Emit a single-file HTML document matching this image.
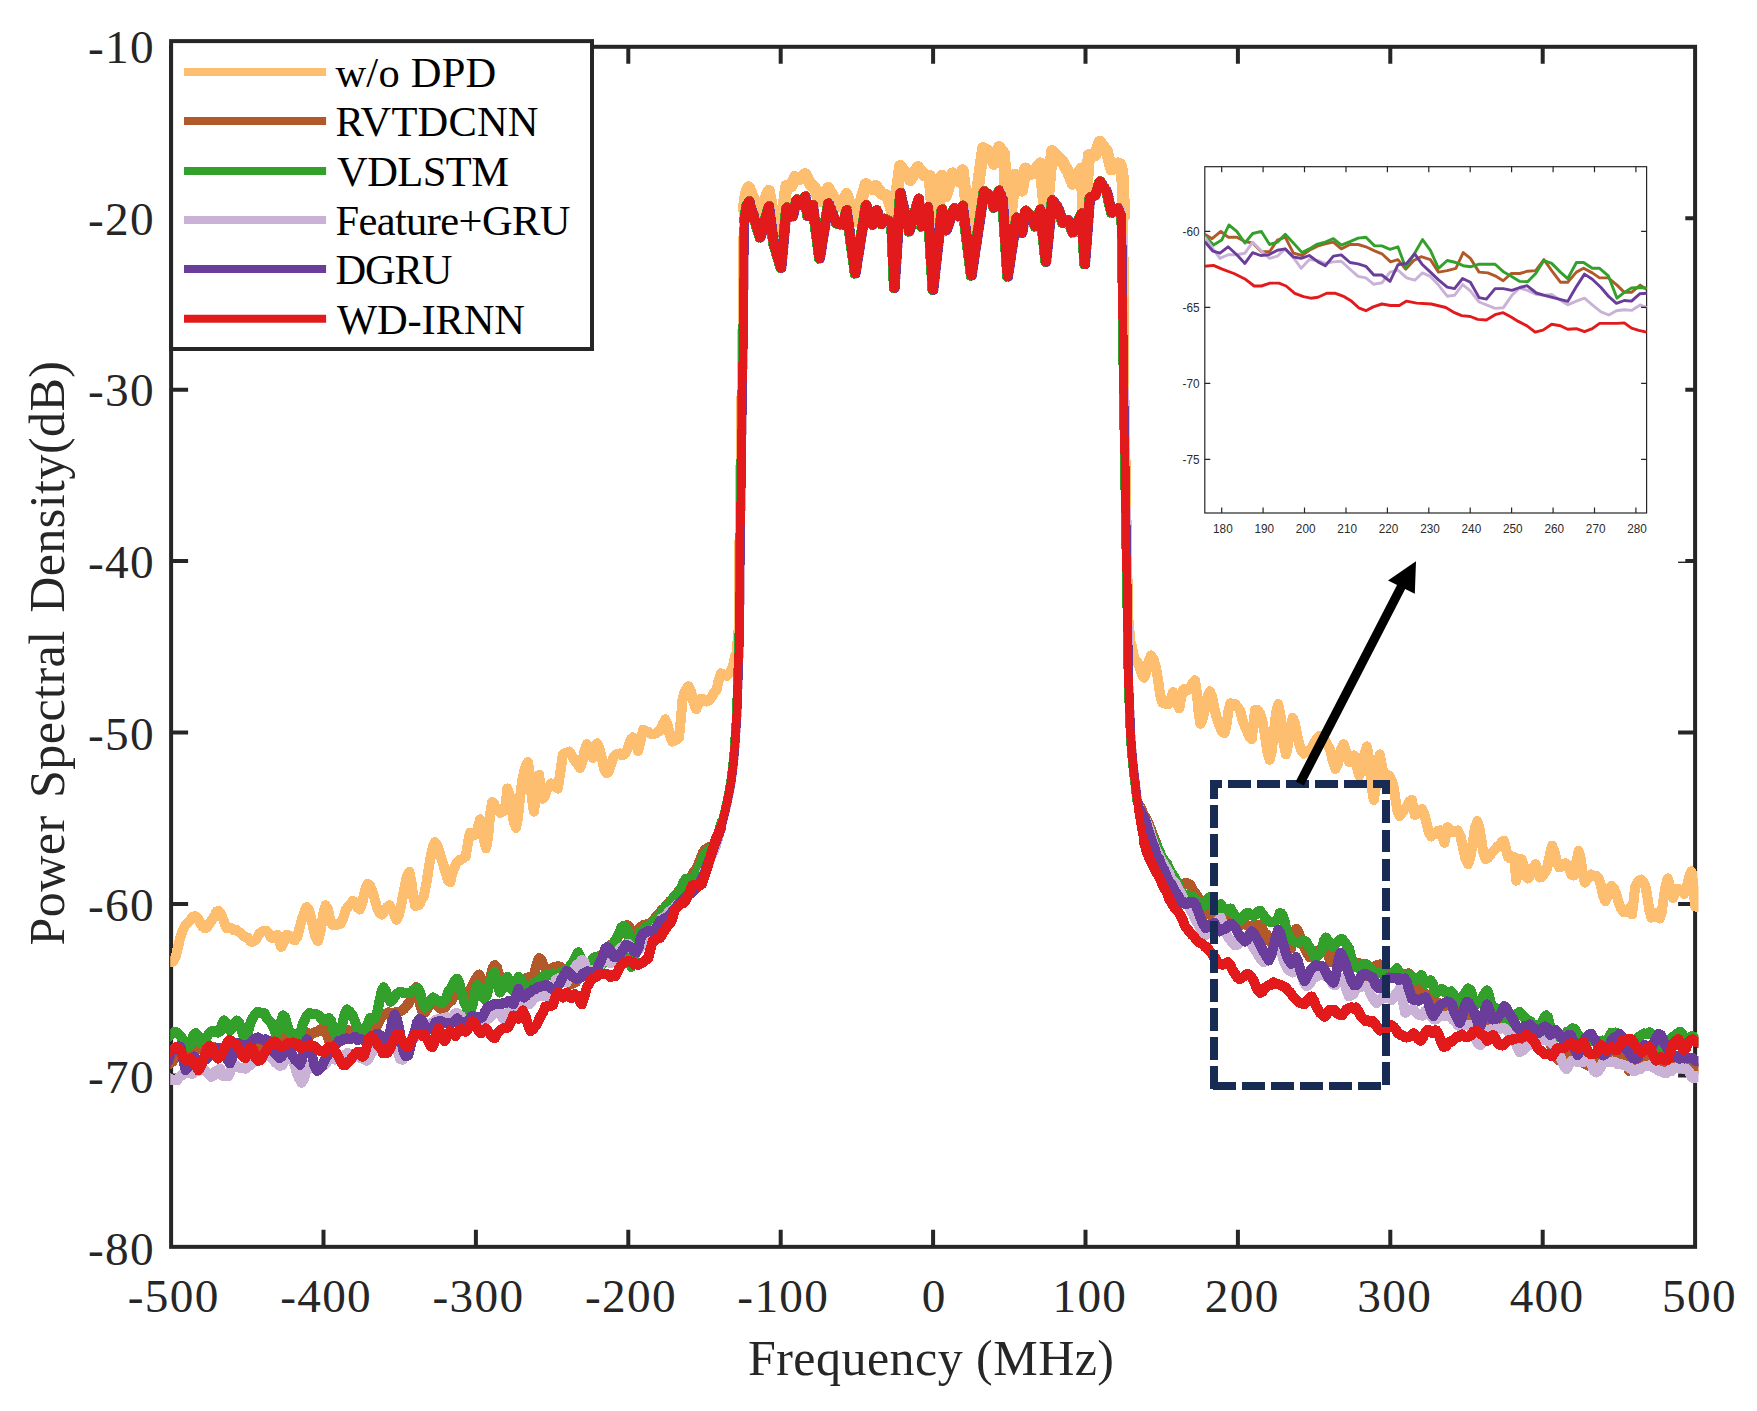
<!DOCTYPE html>
<html lang="en"><head><meta charset="utf-8"><title>Power Spectral Density</title>
<style>html,body{margin:0;padding:0;background:#fff;}svg{display:block;}text{font-family:'Liberation Serif', 'Times New Roman', serif;}.ins text{font-family:'Liberation Sans',Arial,sans-serif;}</style></head><body>
<svg width="1757" height="1411" viewBox="0 0 1757 1411">
<rect width="1757" height="1411" fill="#fff"/>
<g stroke="#262626" stroke-width="4" fill="none" stroke-linecap="butt">
<rect x="171.10" y="46.80" width="1524.00" height="1200.05"/>
<path d="M323.50 1246.85V1229.85 M323.50 46.80V63.80 M475.90 1246.85V1229.85 M475.90 46.80V63.80 M628.30 1246.85V1229.85 M628.30 46.80V63.80 M780.70 1246.85V1229.85 M780.70 46.80V63.80 M933.10 1246.85V1229.85 M933.10 46.80V63.80 M1085.50 1246.85V1229.85 M1085.50 46.80V63.80 M1237.90 1246.85V1229.85 M1237.90 46.80V63.80 M1390.30 1246.85V1229.85 M1390.30 46.80V63.80 M1542.70 1246.85V1229.85 M1542.70 46.80V63.80 M171.10 1075.41H188.10 M1695.10 1075.41H1678.10 M171.10 903.98H188.10 M1695.10 903.98H1678.10 M171.10 732.54H188.10 M1695.10 732.54H1678.10 M171.10 561.11H188.10 M1695.10 561.11H1678.10 M171.10 389.67H188.10 M1695.10 389.67H1678.10 M171.10 218.24H188.10 M1695.10 218.24H1678.10 "/>
</g>
<clipPath id="mc"><rect x="170.2" y="30" width="1528.3" height="1230"/></clipPath>
<g fill="none" stroke-linejoin="round" stroke-linecap="round" shape-rendering="crispEdges" clip-path="url(#mc)">
<path stroke="#FDBF6F" stroke-width="10.1" d="M168.1 962.4 L170.0 962.2 L171.8 961.9 L173.7 960.7 L175.8 956.3 L177.9 947.6 L180.1 938.2 L182.2 931.7 L184.8 926.2 L187.3 923.0 L189.9 920.7 L192.4 916.8 L195.0 916.3 L197.6 917.7 L200.1 922.8 L202.7 926.8 L205.2 928.3 L207.5 927.1 L209.8 923.0 L212.1 919.7 L214.4 916.3 L216.6 911.3 L218.9 911.2 L221.5 914.9 L224.0 921.5 L226.6 928.3 L229.0 928.2 L231.4 928.3 L233.8 930.2 L236.2 929.8 L238.5 931.7 L240.8 933.4 L243.1 935.3 L245.4 937.4 L247.6 937.5 L249.9 940.8 L252.2 942.0 L254.6 940.8 L257.0 938.2 L259.4 933.4 L261.8 931.6 L264.2 930.9 L266.5 931.0 L268.9 933.5 L271.2 937.6 L273.5 937.7 L275.7 935.7 L277.8 935.1 L279.5 941.1 L281.2 947.1 L283.8 941.9 L286.4 935.1 L288.5 935.4 L290.6 937.6 L292.8 939.5 L294.9 940.3 L297.3 936.8 L299.7 927.4 L302.1 918.7 L304.5 911.6 L306.8 907.0 L309.1 910.5 L311.3 919.0 L313.5 929.1 L315.7 937.6 L317.9 941.1 L320.5 931.8 L323.1 914.5 L325.6 905.2 L327.9 909.3 L330.2 919.9 L332.5 924.9 L334.6 925.3 L336.7 924.3 L338.9 924.5 L341.0 923.2 L343.6 917.1 L346.1 909.5 L348.4 906.2 L350.7 903.6 L352.9 901.0 L355.2 902.6 L357.5 907.5 L359.8 909.5 L362.3 902.9 L364.9 890.5 L367.5 883.9 L369.9 885.1 L372.3 891.4 L374.7 899.1 L377.1 907.5 L379.6 913.4 L382.0 914.6 L384.5 911.0 L387.1 907.0 L389.7 905.2 L391.9 909.6 L394.2 914.2 L396.5 919.8 L399.0 914.8 L401.6 902.9 L404.2 888.8 L406.7 876.9 L409.3 872.0 L411.3 880.8 L413.3 897.2 L415.3 906.1 L417.4 905.1 L419.5 904.6 L421.7 899.6 L423.8 895.9 L426.4 883.1 L428.9 866.8 L430.9 856.2 L432.9 846.4 L434.9 842.1 L437.2 845.2 L439.5 851.7 L441.7 860.0 L443.9 866.6 L446.0 873.5 L448.1 880.8 L450.3 882.2 L452.0 873.9 L454.2 868.2 L456.5 863.0 L458.8 860.3 L461.1 859.7 L463.3 858.0 L465.6 856.8 L467.7 844.4 L469.9 832.9 L471.9 833.4 L473.9 834.7 L475.9 834.6 L478.0 827.0 L480.1 819.3 L482.1 826.8 L484.1 840.8 L486.1 848.3 L488.1 836.4 L490.1 814.2 L492.1 802.2 L494.1 803.6 L496.1 808.7 L498.1 810.7 L500.3 812.8 L502.6 810.0 L504.9 810.7 L507.4 788.5 L509.6 794.7 L511.7 808.2 L513.8 821.7 L516.0 827.8 L518.0 817.9 L520.0 797.8 L522.0 781.7 L523.9 772.5 L525.9 765.1 L527.9 762.1 L529.9 774.9 L531.9 798.8 L533.9 811.6 L536.5 793.2 L539.0 774.9 L540.7 786.8 L542.4 798.8 L544.6 796.6 L546.7 790.3 L548.9 786.7 L551.0 783.4 L553.3 784.9 L555.5 787.3 L557.8 788.5 L560.4 771.9 L562.9 754.4 L565.1 753.0 L567.2 752.7 L569.2 751.7 L571.2 754.5 L573.2 757.8 L575.5 761.9 L577.7 764.0 L580.0 768.1 L582.3 761.9 L584.6 750.4 L586.8 744.2 L588.8 748.4 L590.8 753.5 L592.8 757.8 L595.0 750.6 L597.1 743.3 L599.4 748.0 L601.8 758.2 L604.1 768.5 L606.5 773.2 L608.8 771.5 L611.2 763.7 L613.5 757.1 L615.9 754.4 L618.0 754.3 L620.1 753.5 L622.3 755.4 L624.4 754.4 L626.5 751.2 L628.7 745.8 L630.8 739.3 L632.9 737.3 L635.5 743.6 L638.1 751.0 L640.6 740.3 L643.2 729.6 L645.7 731.4 L648.3 731.6 L650.9 734.1 L653.4 733.9 L655.7 733.5 L658.0 731.6 L660.3 730.5 L662.8 724.1 L665.4 719.4 L667.7 725.2 L669.9 735.8 L672.2 741.6 L674.5 740.8 L676.8 739.5 L679.0 737.3 L680.8 719.7 L682.5 699.8 L684.5 691.9 L686.4 689.3 L688.4 686.1 L691.0 691.5 L693.6 702.2 L696.1 709.2 L698.3 704.3 L700.4 698.9 L702.4 700.8 L704.4 699.5 L706.4 701.5 L708.9 700.3 L711.5 697.4 L714.0 692.6 L716.6 689.5 L718.7 680.4 L720.9 673.3 L722.9 673.9 L724.9 675.3 L726.9 675.9 L728.6 673.9 L730.3 671.6 L732.8 666.6 L735.4 655.2"/>
<path stroke="#FDBF6F" stroke-width="8.3" d="M735.4 655.2 L737.9 628.0 L738.4 560.0 L740.0 440.0 L741.8 320.0 L742.5 240.0 L743.8 208.6"/>
<path stroke="#FDBF6F" stroke-width="12.3" d="M743.8 208.6 L746.3 192.8 L748.8 187.4 L759.1 213.7 L768.8 191.1 L778.6 246.2 L786.4 186.1 L791.4 186.1 L795.1 177.3 L800.1 178.6 L805.1 174.2 L810.2 183.6 L815.2 188.6 L818.9 201.1 L828.3 188.0 L837.7 206.1 L841.5 206.1 L846.5 194.2 L855.2 221.2 L865.9 184.2 L872.1 188.6 L875.9 186.1 L881.5 193.6 L887.8 196.1 L893.4 216.2 L900.3 166.1 L910.3 179.9 L917.8 167.3 L924.1 175.1 L929.7 176.1 L934.4 233.7 L941.9 176.1 L945.7 196.1 L952.6 173.6 L958.8 181.1 L962.6 170.5 L970.7 238.7 L983.2 148.3 L990.1 152.3 L993.9 163.6 L998.9 147.3 L1003.9 153.6 L1008.3 233.7 L1015.2 174.8 L1022.0 190.5 L1025.2 168.6 L1032.1 173.6 L1040.2 163.6 L1045.8 218.7 L1052.1 151.4 L1057.7 157.3 L1062.7 162.3 L1067.8 171.1 L1072.8 183.6 L1081.5 168.6 L1084.0 216.2 L1089.0 155.4 L1095.3 154.8 L1099.7 141.7 L1106.6 151.1 L1111.6 169.2 L1117.8 163.6 L1120.0 164.3 L1122.2 171.1 L1124.1 216.2"/>
<path stroke="#FDBF6F" stroke-width="8.3" d="M1124.1 216.2 L1125.2 390.0 L1126.7 480.0 L1129.0 616.0 L1131.5 644.4"/>
<path stroke="#FDBF6F" stroke-width="10.1" d="M1131.5 644.4 L1133.9 656.3 L1135.6 660.4 L1137.3 661.5 L1139.6 667.0 L1141.9 674.7 L1144.1 677.7 L1146.4 671.9 L1148.7 661.2 L1151.0 655.5 L1153.5 659.2 L1156.1 668.3 L1158.1 680.0 L1160.1 694.6 L1162.1 702.4 L1164.1 703.2 L1166.1 704.0 L1168.1 704.2 L1170.6 699.2 L1173.2 692.2 L1175.2 697.0 L1177.2 704.6 L1179.2 708.4 L1180.9 699.6 L1182.6 690.5 L1184.6 688.9 L1186.6 690.8 L1188.5 689.6 L1190.6 687.8 L1192.8 682.4 L1194.9 680.3 L1196.7 691.5 L1198.6 712.5 L1200.5 723.8 L1202.8 718.7 L1205.2 707.6 L1207.5 696.4 L1209.9 691.3 L1212.2 696.9 L1214.4 708.3 L1216.7 717.8 L1219.3 725.6 L1221.8 731.2 L1224.4 733.2 L1226.4 725.4 L1228.4 711.0 L1230.4 703.3 L1232.9 705.2 L1235.5 704.4 L1238.1 707.6 L1240.3 710.7 L1242.6 720.4 L1244.9 726.4 L1247.2 731.0 L1249.4 737.0 L1251.7 739.2 L1253.4 724.6 L1255.1 710.1 L1257.4 710.0 L1259.7 713.0 L1262.0 719.5 L1264.5 732.4 L1267.1 750.5 L1269.6 759.6 L1271.8 751.0 L1273.9 731.9 L1276.1 712.8 L1278.2 704.2 L1280.7 717.2 L1283.3 741.5 L1285.9 754.5 L1288.1 745.0 L1290.4 727.3 L1292.7 717.8 L1295.0 723.6 L1297.3 735.4 L1299.5 745.1 L1301.7 751.2 L1303.8 753.7 L1306.4 752.0 L1308.9 750.3 L1311.5 748.5 L1313.6 744.5 L1315.7 740.4 L1317.9 737.6 L1320.0 735.7 L1322.6 736.3 L1325.1 740.6 L1327.7 745.2 L1330.3 750.3 L1332.8 761.0 L1335.4 769.0 L1337.4 765.2 L1339.5 756.7 L1341.5 748.1 L1343.6 744.3 L1345.4 748.9 L1347.2 757.6 L1349.0 762.2 L1351.6 758.4 L1354.2 755.4 L1356.7 765.6 L1359.3 775.9 L1361.8 768.3 L1364.4 754.1 L1367.0 746.5 L1369.2 760.3 L1371.5 786.0 L1373.8 799.8 L1375.8 788.0 L1377.8 766.3 L1379.8 754.5 L1381.9 765.5 L1384.1 777.1 L1386.4 776.2 L1388.8 775.5 L1391.2 779.2 L1393.3 785.5 L1395.3 798.2 L1397.4 810.5 L1399.4 816.1 L1401.9 813.3 L1404.3 809.4 L1406.8 806.5 L1409.3 801.5 L1411.7 799.7 L1413.2 807.3 L1414.8 815.0 L1417.2 813.4 L1419.6 810.5 L1422.0 808.9 L1424.3 813.9 L1426.6 823.2 L1428.9 832.4 L1431.2 836.5 L1433.5 834.6 L1435.8 833.9 L1438.1 830.7 L1440.4 830.4 L1442.4 836.5 L1444.5 842.7 L1446.0 835.0 L1447.6 827.3 L1450.1 829.8 L1452.7 832.4 L1455.3 831.4 L1457.8 830.4 L1460.4 835.7 L1462.9 847.3 L1465.5 858.9 L1468.1 864.2 L1470.4 857.5 L1472.7 842.7 L1475.0 827.9 L1477.3 821.2 L1479.3 827.1 L1481.4 840.1 L1483.4 853.2 L1485.5 859.1 L1488.0 858.0 L1490.6 854.3 L1493.2 851.6 L1495.7 848.8 L1497.8 846.2 L1499.8 844.8 L1501.9 841.8 L1503.9 840.6 L1506.0 848.8 L1508.0 857.0 L1510.1 858.4 L1512.1 856.5 L1514.2 857.0 L1516.2 880.6 L1518.8 869.8 L1521.3 859.1 L1523.4 864.1 L1525.4 873.5 L1527.5 878.5 L1529.5 877.2 L1531.6 872.2 L1533.6 867.0 L1535.7 864.2 L1537.7 870.9 L1539.8 877.5 L1542.2 876.6 L1544.6 873.2 L1546.9 869.3 L1549.5 856.3 L1552.1 845.8 L1554.5 851.3 L1556.8 861.7 L1559.2 867.3 L1561.3 866.7 L1563.3 864.2 L1565.4 863.2 L1567.4 864.6 L1569.5 868.8 L1571.5 875.0 L1573.6 875.5 L1576.1 863.2 L1578.7 850.9 L1580.8 859.1 L1582.8 874.4 L1584.8 882.6 L1586.9 879.5 L1588.9 876.5 L1591.0 874.5 L1593.4 875.6 L1595.8 875.6 L1598.2 877.5 L1600.6 884.4 L1602.9 895.4 L1605.3 901.1 L1607.4 897.2 L1609.4 888.3 L1611.5 885.7 L1613.9 888.3 L1616.4 894.3 L1618.9 903.8 L1621.3 908.9 L1623.8 912.4 L1626.3 910.8 L1628.9 908.3 L1630.4 912.7 L1632.0 914.4 L1633.5 902.1 L1635.0 887.8 L1637.1 882.8 L1639.1 880.7 L1641.2 879.6 L1643.2 881.5 L1645.3 885.7 L1647.3 896.0 L1649.4 910.3 L1651.4 917.5 L1653.5 917.2 L1655.5 913.4 L1657.6 915.7 L1659.6 918.5 L1661.7 912.3 L1663.7 898.5 L1665.8 884.8 L1667.8 878.5 L1670.4 888.3 L1673.0 898.0 L1675.5 892.4 L1678.1 888.8 L1680.1 891.3 L1682.2 891.8 L1684.2 893.9 L1686.6 888.1 L1689.0 877.2 L1691.4 871.4 L1693.2 882.5 L1695.1 906.2 L1700.1 907.7"/>
<path stroke="#B15928" stroke-width="10.1" d="M168.1 1064.9 L170.5 1063.0 L172.8 1061.3 L175.2 1058.3 L177.6 1055.8 L179.9 1054.3 L182.3 1054.7 L184.7 1052.1 L187.0 1051.5 L189.4 1050.9 L191.8 1050.5 L194.1 1049.5 L196.5 1048.9 L198.9 1049.4 L201.3 1047.9 L203.7 1048.2 L206.1 1047.4 L208.5 1049.2 L210.9 1048.0 L213.3 1047.2 L215.7 1047.5 L218.1 1047.8 L220.6 1047.6 L223.2 1048.5 L225.7 1046.4 L228.3 1046.9 L230.9 1047.5 L233.4 1050.1 L236.0 1048.7 L238.5 1047.7 L241.1 1048.5 L243.7 1049.7 L246.2 1047.6 L248.8 1047.5 L251.3 1048.9 L253.9 1048.3 L256.5 1048.4 L259.0 1047.8 L261.6 1047.1 L264.2 1048.4 L266.7 1047.0 L269.3 1044.4 L271.8 1042.9 L274.4 1038.7 L277.0 1039.5 L279.5 1037.3 L282.1 1036.8 L284.6 1035.9 L287.0 1036.2 L289.4 1035.1 L291.8 1033.7 L294.2 1035.5 L296.6 1034.4 L299.0 1034.6 L301.4 1034.2 L303.8 1034.3 L306.2 1032.3 L308.5 1034.2 L311.1 1034.6 L313.7 1032.5 L316.2 1031.9 L318.8 1031.4 L321.4 1028.6 L323.9 1028.2 L326.2 1030.8 L328.5 1039.4 L330.7 1044.4 L333.3 1042.3 L335.9 1040.4 L338.4 1037.6 L341.0 1032.5 L343.6 1032.1 L346.1 1030.7 L348.7 1030.2 L351.2 1033.6 L353.8 1035.0 L356.4 1035.9 L358.8 1035.4 L361.2 1035.1 L363.7 1033.9 L366.1 1032.8 L368.6 1030.5 L371.0 1030.6 L373.4 1029.0 L376.0 1027.4 L378.6 1022.6 L381.1 1017.3 L383.7 1013.7 L386.2 1013.9 L388.8 1012.4 L391.4 1014.1 L393.9 1012.6 L396.5 1012.3 L399.0 1012.0 L401.6 1010.6 L404.2 1008.8 L406.7 1005.5 L409.3 1002.6 L411.6 997.2 L413.8 989.5 L416.1 987.2 L418.4 994.1 L420.7 1006.8 L422.9 1013.7 L425.5 1011.7 L428.1 1007.5 L430.6 1004.1 L433.2 1001.7 L435.5 1004.1 L437.7 1005.8 L440.0 1008.5 L442.3 1007.9 L444.6 1007.5 L446.9 1004.9 L449.1 1002.3 L451.4 1000.8 L453.7 996.6 L455.4 992.5 L457.1 990.7 L459.6 991.4 L462.2 992.0 L464.8 995.0 L467.3 994.2 L469.7 990.4 L472.1 986.6 L474.5 981.0 L476.9 977.2 L479.3 974.5 L481.5 978.8 L483.8 986.5 L486.1 989.0 L488.2 983.9 L490.4 977.8 L492.5 968.6 L494.6 965.1 L496.8 967.1 L498.9 974.1 L501.0 979.2 L503.2 983.9 L505.7 984.0 L508.3 987.2 L510.9 987.3 L513.4 989.0 L515.7 987.6 L518.0 986.5 L520.3 983.8 L522.5 982.2 L524.8 978.6 L527.1 977.9 L529.6 977.0 L532.2 978.8 L534.5 973.5 L536.8 963.6 L539.0 958.3 L541.3 959.6 L543.6 965.7 L545.9 968.5 L548.4 969.2 L551.0 970.3 L553.3 967.4 L555.5 967.7 L557.8 966.0 L560.1 966.8 L562.4 969.6 L564.6 972.0 L566.9 976.3 L569.2 982.0 L571.5 983.9 L573.8 983.1 L576.0 982.0 L578.3 978.2 L580.6 974.8 L582.9 971.5 L585.1 968.5 L587.3 965.4 L589.4 964.9 L591.5 963.2 L593.7 961.7 L596.2 959.8 L598.8 956.3 L601.4 956.9 L603.9 953.2 L606.5 950.9 L609.0 947.4 L611.6 944.3 L614.2 942.9 L616.4 939.5 L618.7 936.1 L621.0 932.7 L623.0 928.8 L625.0 926.5 L627.0 925.0 L629.0 926.6 L631.0 931.8 L632.9 933.5 L635.5 931.7 L638.1 929.5 L640.6 927.5 L643.2 925.0 L645.5 927.0 L647.7 923.6 L650.0 924.2 L652.6 921.3 L655.1 918.2 L657.3 915.0 L659.4 914.2 L661.5 910.1 L663.7 908.8 L665.8 906.0 L667.9 904.1 L670.1 900.9 L672.2 899.4 L674.8 895.8 L677.3 893.6 L679.9 889.4 L682.5 888.3 L684.7 884.3 L687.0 882.4 L689.3 880.0 L691.6 876.6 L693.8 871.7 L696.1 869.5 L698.3 864.3 L700.4 859.4 L702.5 853.7 L704.7 849.9 L707.1 848.3 L709.5 846.7 L712.0 847.2 L714.4 845.1 L716.7 840.6 L718.9 833.4 L721.2 827.0"/>
<path stroke="#B15928" stroke-width="8.3" d="M721.2 827.0 L723.1 820.3 L725.0 812.6 L726.9 804.3 L729.1 794.1 L731.4 781.6 L733.1 768.8 L734.8 752.1 L737.1 718.1 L738.7 672.8 L740.0 627.4 L740.5 559.4 L742.1 439.4 L743.9 319.4 L744.6 239.4 L745.0 219.6"/>
<path stroke="#B15928" stroke-width="9.7" d="M745.0 219.6 L747.3 204.5 L749.6 200.8 L760.7 236.9 L769.4 205.8 L774.4 243.4 L781.6 267.2 L787.0 207.0 L793.2 215.8 L797.0 198.9 L800.7 204.5 L805.7 195.8 L808.2 215.2 L813.3 204.5 L820.1 257.8 L828.9 202.7 L837.0 222.7 L843.3 224.0 L847.1 209.6 L855.8 272.8 L866.5 204.5 L873.4 224.0 L877.1 209.6 L882.1 223.3 L884.6 218.3 L892.1 222.1 L894.9 287.2 L900.9 192.6 L909.7 230.8 L919.1 198.3 L922.2 225.8 L928.5 206.4 L933.5 289.1 L942.5 208.9 L946.9 229.6 L954.4 207.7 L959.4 215.8 L963.2 205.2 L971.9 274.9 L984.5 190.8 L990.7 195.8 L994.5 207.0 L999.5 190.1 L1003.2 199.5 L1008.2 275.9 L1017.0 217.1 L1022.6 232.1 L1025.8 210.2 L1033.3 218.3 L1035.8 225.8 L1040.8 208.9 L1046.4 261.1 L1052.7 199.5 L1058.3 207.0 L1063.3 222.1 L1068.4 219.6 L1073.4 231.8 L1082.1 212.7 L1085.3 263.4 L1090.3 197.0 L1095.9 194.5 L1100.3 180.8 L1107.2 190.8 L1112.2 212.1 L1118.4 207.7 L1120.0 210.1"/>
<path stroke="#B15928" stroke-width="8.3" d="M1120.0 210.1 L1121.6 214.6 L1122.6 250.0 L1123.0 300.0 L1124.2 390.0 L1125.7 480.0 L1128.0 616.0 L1129.1 684.0 L1131.4 741.0 L1133.7 766.7 L1136.0 786.0 L1137.6 800.0 L1140.0 804.9 L1142.4 808.5 L1145.0 816.5"/>
<path stroke="#B15928" stroke-width="10.1" d="M1145.0 816.5 L1147.6 821.5 L1150.1 827.1 L1152.7 834.1 L1155.1 840.1 L1157.5 846.8 L1159.9 853.7 L1162.2 857.8 L1164.6 863.2 L1166.9 866.1 L1169.2 872.0 L1171.5 876.6 L1173.7 880.3 L1176.0 883.9 L1178.3 883.7 L1180.9 884.0 L1183.4 884.4 L1186.0 882.7 L1188.5 883.7 L1190.7 885.6 L1192.8 889.7 L1194.9 892.4 L1197.1 895.6 L1199.6 901.2 L1202.2 905.9 L1204.8 909.6 L1207.3 914.4 L1209.9 914.3 L1212.4 916.1 L1214.7 916.0 L1217.0 916.5 L1219.3 916.8 L1221.6 915.7 L1223.8 916.4 L1226.1 916.1 L1228.4 916.2 L1230.7 917.6 L1232.9 918.8 L1235.2 919.4 L1237.5 921.8 L1239.8 922.9 L1242.2 924.6 L1244.5 923.9 L1246.9 925.3 L1249.3 926.7 L1251.7 926.4 L1254.0 924.9 L1256.3 925.3 L1258.5 924.6 L1260.7 924.8 L1262.8 929.4 L1265.0 933.8 L1267.1 934.9 L1269.4 940.7 L1271.6 943.0 L1273.9 945.1 L1276.2 945.4 L1278.5 944.0 L1280.7 943.4 L1283.3 944.3 L1285.9 947.4 L1288.4 946.6 L1291.0 948.5 L1293.6 938.7 L1296.1 928.9 L1298.4 931.6 L1300.7 938.8 L1302.9 943.4 L1305.2 949.2 L1307.5 954.0 L1309.8 957.1 L1311.9 956.4 L1314.0 954.7 L1316.2 951.8 L1318.3 950.3 L1320.6 949.9 L1322.9 948.3 L1325.1 948.5 L1327.7 953.5 L1330.3 962.2 L1332.4 961.7 L1334.5 958.6 L1336.7 955.1 L1338.8 953.7 L1341.4 954.2 L1343.9 956.2 L1346.5 956.5 L1349.0 958.2 L1351.6 960.5 L1354.2 962.2 L1356.4 964.3 L1358.7 962.9 L1361.0 965.6 L1363.6 973.2 L1366.1 977.6 L1368.5 975.7 L1370.9 972.1 L1373.3 970.4 L1375.7 966.0 L1378.1 964.8 L1380.5 964.4 L1382.9 967.2 L1385.2 970.9 L1387.6 973.5 L1390.0 974.2 L1392.6 975.0 L1395.1 976.8 L1397.7 977.9 L1400.3 977.6 L1402.3 976.3 L1404.4 975.8 L1406.5 974.0 L1408.5 973.4 L1410.7 974.9 L1412.8 979.6 L1414.9 985.3 L1417.1 988.8 L1419.6 991.0 L1422.2 992.1 L1424.8 993.7 L1427.3 995.6 L1429.9 998.3 L1432.4 999.2 L1435.0 1001.5 L1437.6 1002.4 L1440.1 1005.6 L1442.7 1007.2 L1445.2 1010.6 L1447.8 1009.3 L1450.4 1008.5 L1452.9 1010.0 L1455.5 1009.0 L1458.1 1009.3 L1460.6 1011.8 L1463.2 1013.7 L1465.7 1012.6 L1468.3 1016.1 L1470.9 1016.2 L1473.4 1018.4 L1476.0 1019.3 L1478.5 1019.5 L1481.1 1021.9 L1483.7 1023.4 L1486.2 1025.9 L1488.8 1026.4 L1490.9 1025.9 L1493.1 1022.9 L1495.2 1021.5 L1497.3 1019.5 L1499.5 1017.7 L1501.6 1020.9 L1503.7 1020.2 L1505.9 1022.1 L1508.4 1024.7 L1511.0 1026.4 L1513.5 1029.0 L1516.1 1033.2 L1518.4 1037.5 L1520.7 1040.6 L1522.9 1043.4 L1525.5 1041.5 L1528.1 1038.6 L1530.6 1037.6 L1533.2 1036.6 L1535.6 1037.1 L1538.0 1037.8 L1540.4 1037.1 L1542.7 1038.7 L1545.1 1038.3 L1547.3 1039.8 L1549.4 1042.7 L1551.5 1047.0 L1553.7 1050.3 L1556.2 1057.4 L1558.8 1060.5 L1561.4 1059.1 L1563.9 1056.9 L1566.5 1054.6 L1569.0 1053.7 L1571.6 1054.2 L1574.2 1054.6 L1576.7 1058.0 L1579.3 1058.8 L1581.4 1060.2 L1583.6 1063.3 L1585.7 1064.1 L1587.8 1065.6 L1590.4 1064.1 L1592.9 1060.0 L1595.5 1055.2 L1598.1 1053.7 L1600.6 1055.5 L1603.2 1054.0 L1605.7 1055.3 L1608.3 1054.5 L1610.9 1053.1 L1613.4 1053.7 L1615.8 1053.4 L1618.2 1054.5 L1620.6 1054.8 L1623.0 1055.8 L1625.4 1057.1 L1627.1 1064.2 L1628.8 1070.7 L1631.1 1066.6 L1633.4 1063.2 L1635.6 1060.5 L1638.0 1057.9 L1640.4 1059.7 L1642.8 1058.4 L1645.2 1058.2 L1647.6 1058.8 L1649.7 1059.0 L1651.8 1060.5 L1654.0 1060.1 L1656.1 1062.2 L1658.7 1061.2 L1661.2 1062.4 L1663.8 1061.9 L1666.4 1063.9 L1668.6 1062.8 L1670.9 1064.5 L1673.2 1061.3 L1675.5 1062.0 L1677.7 1059.5 L1680.0 1060.5 L1682.5 1061.0 L1685.0 1061.1 L1687.6 1062.3 L1690.1 1064.2 L1692.6 1067.0 L1695.1 1067.3 L1700.1 1068.8"/>
<path stroke="#33A02C" stroke-width="10.1" d="M168.1 1037.6 L170.3 1035.2 L172.6 1033.5 L174.8 1031.8 L177.1 1032.5 L179.3 1034.5 L181.5 1037.3 L183.7 1042.6 L186.0 1045.4 L188.2 1047.0 L190.7 1045.0 L193.3 1035.1 L195.9 1033.3 L198.1 1035.7 L200.4 1041.7 L202.7 1043.6 L204.8 1041.4 L207.0 1036.9 L209.1 1033.2 L211.2 1031.6 L213.5 1030.6 L215.8 1032.3 L218.1 1032.5 L220.0 1031.6 L222.0 1024.6 L224.0 1020.5 L226.0 1022.2 L228.0 1027.3 L230.0 1030.7 L232.3 1027.7 L234.6 1024.1 L236.8 1020.5 L239.0 1022.4 L241.1 1028.4 L243.2 1035.7 L245.4 1037.6 L247.6 1034.1 L249.9 1024.6 L252.2 1018.8 L254.8 1014.7 L257.3 1012.0 L259.9 1012.5 L262.2 1012.6 L264.6 1013.2 L266.9 1018.5 L269.3 1020.5 L271.4 1023.1 L273.5 1028.0 L275.7 1032.7 L277.8 1032.5 L280.4 1023.9 L282.9 1015.4 L285.1 1017.1 L287.2 1025.1 L289.3 1031.7 L291.5 1034.2 L293.8 1034.4 L296.0 1034.8 L298.3 1035.9 L300.4 1032.6 L302.6 1024.4 L304.7 1020.1 L306.8 1015.4 L309.4 1012.8 L312.0 1013.7 L314.5 1014.3 L317.1 1014.5 L319.4 1015.9 L321.6 1019.1 L323.9 1020.5 L326.5 1019.5 L329.0 1017.9 L331.2 1021.1 L333.3 1029.6 L335.4 1034.0 L337.6 1039.3 L339.9 1034.6 L342.3 1024.3 L344.6 1014.1 L347.0 1009.4 L349.5 1011.4 L352.1 1014.7 L354.6 1020.5 L356.9 1026.2 L359.2 1034.8 L361.5 1037.6 L363.6 1034.9 L365.7 1027.5 L367.9 1023.2 L370.0 1017.9 L372.6 1019.6 L375.1 1017.1 L377.3 1012.1 L379.4 1001.8 L381.5 991.8 L383.7 987.2 L386.0 991.7 L388.2 998.2 L390.5 1001.7 L392.6 1000.1 L394.8 996.5 L396.9 993.6 L399.0 992.3 L401.6 992.0 L404.2 993.4 L406.7 992.7 L409.3 993.2 L411.4 992.0 L413.6 989.5 L415.7 988.8 L417.8 988.1 L420.1 992.3 L422.4 1002.4 L424.7 1007.7 L426.8 1007.0 L428.9 1002.9 L431.1 999.5 L433.2 997.5 L435.3 998.7 L437.5 1000.5 L439.6 1002.4 L441.7 1003.4 L443.9 1001.5 L446.0 998.5 L448.1 992.1 L450.3 988.9 L452.5 985.9 L454.8 980.6 L457.1 978.7 L459.4 983.2 L461.6 992.7 L463.9 1001.0 L465.9 1005.7 L467.9 1011.1 L469.9 1012.9 L472.4 1005.6 L475.0 992.1 L477.6 984.8 L479.8 987.8 L482.1 993.5 L484.4 999.3 L487.0 994.4 L489.5 983.8 L492.1 976.2 L494.6 972.0 L497.2 982.2 L499.8 992.5 L502.3 989.1 L504.9 979.9 L507.4 977.1 L509.4 979.9 L511.4 988.8 L513.4 990.7 L516.0 984.2 L518.5 977.1 L520.8 979.3 L523.1 984.4 L525.4 985.6 L527.9 987.5 L530.5 985.7 L533.1 983.5 L535.6 982.2 L538.2 980.9 L540.7 979.1 L543.3 976.0 L545.9 975.4 L548.3 974.0 L550.6 974.7 L553.0 973.5 L555.4 974.0 L557.8 973.7 L559.9 973.2 L562.1 974.5 L564.2 970.7 L566.4 970.3 L568.6 968.1 L570.9 965.0 L573.2 961.7 L575.7 956.5 L578.3 952.3 L580.6 957.5 L582.9 963.9 L585.1 968.5 L587.7 966.7 L590.3 965.1 L592.8 958.8 L595.4 956.6 L597.9 960.0 L600.5 965.1 L603.1 963.8 L605.6 958.8 L608.2 952.3 L610.7 948.1 L613.0 943.8 L615.3 940.1 L617.6 936.1 L619.6 932.4 L621.6 927.2 L623.6 925.9 L625.5 927.1 L627.5 930.2 L629.5 939.5 L631.2 966.8 L633.5 961.1 L635.8 949.3 L638.1 939.5 L640.6 931.4 L643.2 929.3 L645.7 926.8 L648.3 925.8 L650.9 923.9 L653.4 922.4 L655.6 919.6 L657.7 917.6 L659.8 914.9 L662.0 912.2 L664.1 909.6 L666.2 905.4 L668.4 904.4 L670.5 902.0 L672.6 898.7 L674.8 896.6 L676.9 894.8 L679.0 891.7 L681.3 887.5 L683.6 882.3 L685.9 878.9 L688.2 878.7 L690.4 880.4 L692.7 879.8 L695.3 877.0 L697.8 869.5 L700.0 866.0 L702.1 861.4 L704.2 855.6 L706.4 852.4 L708.6 850.1 L710.9 849.4 L713.2 846.3 L715.5 840.6 L717.7 835.6 L720.0 828.2 L721.9 821.5"/>
<path stroke="#33A02C" stroke-width="8.3" d="M721.9 821.5 L723.8 813.8 L725.7 805.5 L727.9 795.3 L730.2 782.8 L731.9 770.0 L733.6 753.3 L735.9 719.3 L737.5 674.0 L738.8 628.6 L739.3 560.6 L740.9 440.6 L742.7 320.6 L743.4 240.6 L743.8 220.8"/>
<path stroke="#33A02C" stroke-width="9.7" d="M743.8 220.8 L746.1 205.7 L748.4 202.0 L759.5 238.1 L768.2 207.0 L773.2 244.6 L780.4 268.4 L785.8 208.2 L792.0 217.0 L795.8 200.1 L799.5 205.7 L804.5 197.0 L807.0 216.4 L812.1 205.7 L818.9 259.0 L827.7 203.9 L835.8 223.9 L842.1 225.2 L845.9 210.8 L854.6 274.0 L865.3 205.7 L872.2 225.2 L875.9 210.8 L880.9 224.5 L883.4 219.5 L890.9 223.3 L893.7 288.4 L899.7 193.8 L908.5 232.0 L917.9 199.5 L921.0 227.0 L927.3 207.6 L932.3 290.3 L941.3 210.1 L945.7 230.8 L953.2 208.9 L958.2 217.0 L962.0 206.4 L970.7 276.1 L983.3 192.0 L989.5 197.0 L993.3 208.2 L998.3 191.3 L1002.0 200.7 L1007.0 277.1 L1015.8 218.3 L1021.4 233.3 L1024.6 211.4 L1032.1 219.5 L1034.6 227.0 L1039.6 210.1 L1045.2 262.3 L1051.5 200.7 L1057.1 208.2 L1062.1 223.3 L1067.2 220.8 L1072.2 233.0 L1080.9 213.9 L1084.1 264.6 L1089.1 198.2 L1094.7 195.7 L1099.1 182.0 L1106.0 192.0 L1111.0 213.3 L1117.2 208.9 L1120.4 215.8"/>
<path stroke="#33A02C" stroke-width="8.3" d="M1120.4 215.8 L1121.4 250.0 L1121.8 300.0 L1123.0 390.0 L1124.5 480.0 L1126.8 616.0 L1127.9 684.0 L1130.2 741.0 L1132.5 766.7 L1134.8 786.0 L1136.4 800.0 L1139.0 810.0 L1141.5 815.3 L1144.1 819.8"/>
<path stroke="#33A02C" stroke-width="10.1" d="M1144.1 819.8 L1146.7 823.4 L1149.3 829.0 L1151.8 835.1 L1154.4 840.2 L1157.0 846.5 L1159.5 851.2 L1162.1 857.7 L1164.6 860.8 L1167.2 864.1 L1169.8 870.0 L1171.9 873.2 L1174.0 876.6 L1176.2 880.7 L1178.3 885.4 L1180.6 890.7 L1182.9 893.6 L1185.1 895.6 L1187.3 894.8 L1189.4 897.1 L1191.5 897.9 L1193.7 897.3 L1195.9 900.5 L1198.2 905.8 L1200.5 909.3 L1202.6 906.3 L1204.8 902.4 L1206.9 899.4 L1209.0 897.3 L1211.6 903.9 L1214.2 909.3 L1216.4 909.0 L1218.7 906.6 L1221.0 904.2 L1223.5 908.6 L1226.1 911.0 L1228.2 910.9 L1230.4 908.4 L1232.9 912.3 L1235.5 916.5 L1238.1 921.2 L1240.6 919.8 L1243.2 917.2 L1245.7 913.7 L1248.3 912.7 L1250.9 915.2 L1253.4 916.1 L1255.7 914.5 L1258.0 911.5 L1260.3 911.0 L1262.4 913.9 L1264.5 916.7 L1266.7 919.8 L1268.8 921.2 L1271.1 922.1 L1273.3 922.2 L1275.6 921.2 L1277.6 919.5 L1279.6 913.3 L1281.6 913.5 L1284.2 919.5 L1286.7 930.9 L1289.3 938.3 L1291.6 939.2 L1293.8 941.4 L1296.1 941.7 L1298.7 942.8 L1301.2 941.3 L1303.8 940.7 L1306.4 941.7 L1308.5 945.9 L1310.6 949.0 L1312.8 953.6 L1314.9 957.1 L1317.5 956.3 L1320.0 953.7 L1322.0 948.9 L1324.0 940.6 L1326.0 937.5 L1328.0 940.6 L1330.0 944.0 L1332.0 946.8 L1334.1 944.8 L1336.2 943.2 L1338.4 941.1 L1340.5 939.2 L1342.6 939.4 L1344.8 942.4 L1346.9 945.1 L1349.0 948.5 L1351.3 957.6 L1353.6 962.6 L1355.9 967.3 L1358.4 968.0 L1361.0 965.6 L1363.6 964.3 L1366.1 963.9 L1368.3 965.8 L1370.4 968.6 L1372.5 971.9 L1374.7 972.5 L1376.8 973.3 L1378.9 972.8 L1381.1 973.2 L1383.2 974.2 L1385.5 975.8 L1387.7 977.4 L1390.0 977.6 L1392.3 976.4 L1394.6 971.0 L1396.9 968.2 L1399.1 971.6 L1401.4 976.5 L1403.7 977.6 L1405.7 976.5 L1407.7 975.1 L1410.2 975.1 L1412.8 977.9 L1415.4 980.3 L1417.4 977.6 L1419.4 977.9 L1421.3 975.1 L1423.5 978.6 L1425.6 983.7 L1428.2 983.1 L1430.7 980.3 L1432.7 983.9 L1434.7 990.6 L1436.7 992.2 L1439.3 991.4 L1441.8 988.8 L1444.0 990.8 L1446.1 993.1 L1448.7 992.0 L1451.2 991.3 L1453.5 994.3 L1455.8 999.7 L1458.1 1002.4 L1460.6 999.8 L1463.2 995.4 L1465.7 992.1 L1468.3 988.4 L1470.9 991.0 L1473.4 1000.3 L1476.0 1004.2 L1478.1 1002.2 L1480.3 1000.7 L1482.5 997.2 L1484.8 993.4 L1487.1 990.5 L1489.1 995.4 L1491.1 1004.4 L1493.1 1009.3 L1495.0 1007.8 L1497.0 1010.3 L1499.0 1009.3 L1501.6 1010.9 L1504.2 1016.7 L1506.7 1021.0 L1509.3 1022.9 L1511.8 1018.9 L1514.4 1016.7 L1517.0 1013.8 L1519.5 1011.8 L1521.8 1014.8 L1524.1 1017.0 L1526.4 1019.5 L1528.5 1021.3 L1530.6 1021.2 L1532.8 1024.9 L1534.9 1024.6 L1537.5 1027.4 L1540.0 1026.4 L1542.0 1023.5 L1544.0 1017.9 L1546.0 1015.3 L1548.0 1017.1 L1550.0 1025.8 L1552.0 1029.8 L1554.5 1034.9 L1557.1 1035.2 L1559.6 1037.2 L1562.2 1036.6 L1564.8 1035.8 L1567.3 1031.6 L1569.9 1030.9 L1572.5 1028.4 L1574.7 1029.1 L1577.0 1033.6 L1579.3 1036.6 L1581.6 1038.4 L1583.8 1040.1 L1586.1 1040.0 L1588.5 1040.8 L1590.8 1041.1 L1593.2 1040.3 L1595.5 1040.1 L1597.9 1041.5 L1600.2 1041.0 L1602.5 1040.5 L1604.9 1041.7 L1607.0 1039.2 L1609.2 1037.0 L1611.3 1032.8 L1613.4 1033.2 L1615.7 1032.5 L1618.0 1033.6 L1620.3 1036.6 L1622.8 1039.0 L1625.4 1042.0 L1627.9 1045.9 L1630.5 1045.1 L1632.6 1042.7 L1634.8 1040.9 L1636.9 1039.5 L1639.0 1036.6 L1641.6 1034.9 L1644.2 1033.4 L1646.7 1034.2 L1649.3 1032.3 L1651.6 1033.6 L1653.8 1036.6 L1656.1 1041.7 L1657.8 1044.7 L1659.5 1048.5 L1661.8 1048.3 L1664.1 1047.0 L1666.4 1045.1 L1668.6 1041.4 L1670.9 1038.5 L1673.2 1036.6 L1675.5 1034.9 L1677.7 1033.1 L1680.0 1031.8 L1682.3 1033.8 L1684.6 1039.7 L1686.9 1041.7 L1689.1 1040.9 L1691.4 1036.3 L1693.7 1036.6 L1695.1 1040.0 L1700.1 1041.5"/>
<path stroke="#CAB2D6" stroke-width="10.1" d="M168.1 1077.7 L170.3 1078.9 L172.6 1080.3 L174.8 1079.7 L177.1 1080.3 L179.2 1077.0 L181.3 1075.7 L183.5 1073.7 L185.6 1071.7 L187.7 1073.1 L189.9 1069.8 L192.0 1074.1 L194.1 1071.7 L196.3 1070.2 L198.4 1070.9 L200.6 1070.0 L202.7 1068.3 L204.8 1070.5 L207.0 1072.7 L209.1 1074.5 L211.2 1076.8 L213.5 1075.6 L215.8 1071.1 L218.1 1070.0 L220.2 1068.7 L222.3 1075.6 L224.5 1075.7 L226.6 1076.0 L228.7 1075.9 L230.9 1069.6 L233.0 1067.9 L235.1 1064.9 L237.7 1066.9 L240.3 1068.2 L242.8 1068.0 L245.4 1068.7 L247.6 1066.5 L249.9 1065.2 L252.2 1063.2 L254.8 1059.1 L257.3 1057.3 L259.9 1057.2 L262.4 1056.4 L264.6 1055.5 L266.7 1056.2 L268.9 1056.3 L271.0 1056.4 L273.1 1059.6 L275.3 1062.2 L277.4 1064.2 L279.5 1065.7 L282.1 1065.4 L284.6 1060.4 L287.2 1057.5 L289.8 1056.4 L292.2 1059.9 L294.5 1064.6 L296.9 1073.3 L299.3 1078.9 L301.7 1082.8 L304.0 1078.3 L306.3 1071.0 L308.5 1064.9 L310.7 1065.0 L312.8 1067.7 L315.0 1068.4 L317.1 1070.0 L319.4 1068.1 L321.6 1065.8 L323.9 1065.4 L326.2 1063.3 L328.5 1059.4 L330.7 1058.1 L332.9 1057.7 L335.0 1059.6 L337.1 1059.2 L339.3 1059.8 L341.4 1059.4 L343.6 1056.6 L345.7 1054.3 L347.8 1052.9 L350.0 1053.9 L352.1 1053.7 L354.2 1055.0 L356.4 1056.4 L358.9 1056.1 L361.5 1058.6 L364.0 1058.9 L366.6 1060.6 L368.7 1058.8 L370.9 1054.3 L373.0 1050.9 L375.1 1047.8 L377.7 1046.1 L380.3 1042.4 L382.8 1041.2 L385.4 1039.7 L387.9 1040.3 L390.5 1039.3 L392.9 1042.9 L395.3 1047.3 L397.7 1052.2 L400.1 1059.0 L402.5 1059.8 L404.6 1056.0 L406.7 1053.3 L408.9 1045.0 L411.0 1041.0 L413.6 1035.0 L416.1 1036.9 L418.7 1033.2 L421.2 1028.5 L423.8 1027.5 L426.4 1025.6 L428.6 1024.1 L430.9 1023.3 L433.2 1022.2 L435.5 1019.8 L437.7 1019.4 L440.0 1019.3 L442.3 1018.2 L444.6 1018.4 L446.9 1017.1 L448.5 1021.5 L450.7 1020.2 L452.8 1019.3 L454.9 1013.6 L457.1 1012.9 L459.2 1014.8 L461.3 1016.3 L463.5 1020.5 L465.6 1023.2 L467.7 1023.8 L469.9 1020.6 L472.0 1020.8 L474.1 1019.8 L476.7 1020.0 L479.3 1019.7 L481.8 1020.9 L484.4 1021.5 L486.7 1020.1 L488.9 1018.1 L491.2 1016.4 L493.5 1014.4 L495.8 1011.5 L498.1 1009.5 L500.6 1013.7 L503.2 1018.9 L505.3 1016.7 L507.4 1014.4 L509.6 1010.3 L511.7 1007.8 L514.3 1006.9 L516.8 1006.7 L519.4 1003.9 L522.0 1002.7 L524.2 1003.1 L526.5 1003.8 L528.8 1004.4 L531.1 1002.1 L533.3 998.9 L535.6 997.6 L537.9 995.8 L540.2 995.8 L542.4 995.9 L544.7 995.5 L547.0 996.5 L549.3 995.9 L551.4 992.8 L553.5 987.0 L555.7 980.1 L557.8 978.5 L560.1 980.9 L562.4 981.7 L564.6 982.2 L566.8 982.5 L568.9 978.3 L571.0 975.0 L573.2 970.3 L575.3 966.9 L577.5 964.4 L579.6 963.5 L581.7 960.0 L584.0 961.6 L586.3 968.7 L588.5 970.3 L590.7 971.7 L592.8 970.2 L595.0 969.9 L597.1 968.5 L599.4 967.1 L601.6 961.4 L603.9 960.0 L606.2 961.2 L608.5 961.5 L610.7 963.1 L612.9 960.8 L615.0 957.0 L617.1 953.0 L619.3 949.8 L621.6 947.4 L623.8 945.6 L626.1 944.3 L628.7 943.9 L631.2 948.9 L633.8 950.0 L636.4 949.8 L638.7 949.6 L641.1 946.6 L643.5 944.0 L645.9 941.4 L648.3 937.8 L650.4 935.4 L652.6 930.4 L654.7 929.5 L656.8 925.9 L659.2 925.6 L661.6 918.3 L664.0 918.1 L666.4 914.9 L668.8 912.2 L671.4 909.8 L673.9 909.1 L676.5 904.8 L679.0 903.7 L681.6 901.4 L684.2 900.0 L686.7 895.8 L689.3 893.4 L691.8 890.7 L694.4 888.9 L697.0 885.9 L699.5 883.2 L701.8 880.3 L704.1 872.5 L706.4 867.8 L708.6 863.6 L710.9 856.7 L713.2 852.4 L715.2 847.6 L717.3 841.0 L719.3 832.4 L721.4 828.0"/>
<path stroke="#CAB2D6" stroke-width="8.3" d="M721.4 828.0 L723.3 821.1 L725.2 813.5 L727.1 805.3 L729.3 795.1 L731.6 782.6 L733.3 769.8 L735.0 753.1 L737.3 719.1 L738.9 673.8 L740.2 628.4 L740.7 560.4 L742.3 440.4 L744.1 320.4 L744.8 240.4 L745.2 220.6"/>
<path stroke="#CAB2D6" stroke-width="9.7" d="M745.2 220.6 L747.5 205.5 L749.8 201.8 L760.9 237.9 L769.6 206.8 L774.6 244.4 L781.8 268.2 L787.2 208.0 L793.4 216.8 L797.2 199.9 L800.9 205.5 L805.9 196.8 L808.4 216.2 L813.5 205.5 L820.3 258.8 L829.1 203.7 L837.2 223.7 L843.5 225.0 L847.3 210.6 L856.0 273.8 L866.7 205.5 L873.6 225.0 L877.3 210.6 L882.3 224.3 L884.8 219.3 L892.3 223.1 L895.1 288.2 L901.1 193.6 L909.9 231.8 L919.3 199.3 L922.4 226.8 L928.7 207.4 L933.7 290.1 L942.7 209.9 L947.1 230.6 L954.6 208.7 L959.6 216.8 L963.4 206.2 L972.1 275.9 L984.7 191.8 L990.9 196.8 L994.7 208.0 L999.7 191.1 L1003.4 200.5 L1008.4 276.9 L1017.2 218.1 L1022.8 233.1 L1026.0 211.2 L1033.5 219.3 L1036.0 226.8 L1041.0 209.9 L1046.6 262.1 L1052.9 200.5 L1058.5 208.0 L1063.5 223.1 L1068.6 220.6 L1073.6 232.8 L1082.3 213.7 L1085.5 264.4 L1090.5 198.0 L1096.1 195.5 L1100.5 181.8 L1107.4 191.8 L1112.4 213.1 L1118.6 208.7 L1120.2 209.2"/>
<path stroke="#CAB2D6" stroke-width="8.3" d="M1120.2 209.2 L1121.8 215.6 L1122.8 250.0 L1123.2 300.0 L1124.4 390.0 L1125.9 480.0 L1128.2 616.0 L1129.3 684.0 L1131.6 741.0 L1133.9 766.7 L1136.2 786.0 L1137.8 800.0 L1139.8 807.4 L1141.8 813.6 L1143.8 816.3 L1145.9 820.5"/>
<path stroke="#CAB2D6" stroke-width="10.1" d="M1145.9 820.5 L1148.2 826.2 L1150.6 833.9 L1153.0 842.0 L1155.4 848.2 L1157.8 852.9 L1159.9 857.2 L1162.1 861.1 L1164.2 864.5 L1166.3 868.3 L1168.7 871.9 L1171.1 878.4 L1173.5 880.6 L1175.9 883.7 L1178.3 888.8 L1180.7 892.5 L1183.1 897.7 L1185.5 901.7 L1187.9 905.1 L1190.3 909.3 L1192.8 913.6 L1195.4 919.8 L1197.9 923.8 L1200.5 929.0 L1203.1 934.3 L1205.6 934.9 L1207.8 933.6 L1209.9 932.2 L1212.0 930.2 L1214.2 926.4 L1216.4 923.6 L1218.7 919.5 L1221.0 917.8 L1223.5 926.3 L1226.1 933.2 L1228.7 938.2 L1231.2 941.1 L1233.8 944.8 L1236.4 945.1 L1238.5 944.2 L1240.6 940.1 L1242.8 938.0 L1244.9 936.6 L1247.5 937.9 L1250.0 939.9 L1252.6 946.0 L1255.1 950.3 L1257.3 953.5 L1259.4 957.3 L1261.5 959.4 L1263.7 962.2 L1265.8 960.9 L1267.9 958.8 L1270.1 956.1 L1272.2 953.7 L1274.5 950.4 L1276.8 950.0 L1279.0 948.5 L1281.6 953.2 L1284.2 962.2 L1286.3 965.7 L1288.4 970.4 L1290.6 970.9 L1292.7 972.5 L1295.3 969.4 L1297.8 967.3 L1300.0 971.3 L1302.1 976.4 L1304.2 982.9 L1306.4 986.1 L1308.5 985.1 L1310.6 983.1 L1312.8 977.2 L1314.9 977.6 L1317.5 976.1 L1320.0 975.4 L1322.6 975.0 L1325.1 975.9 L1327.7 976.5 L1330.3 979.8 L1332.8 984.1 L1335.4 985.3 L1337.7 982.4 L1339.9 979.7 L1342.2 977.6 L1344.5 982.8 L1346.8 990.8 L1349.0 996.4 L1351.2 995.3 L1353.3 994.0 L1355.4 989.9 L1357.6 987.8 L1359.7 986.6 L1361.8 986.6 L1364.0 985.4 L1366.1 986.1 L1368.7 989.0 L1371.2 995.4 L1373.8 999.8 L1376.4 1003.2 L1378.6 1001.2 L1380.9 999.2 L1383.2 996.4 L1385.3 996.4 L1387.5 998.2 L1389.6 998.3 L1391.7 999.8 L1393.9 997.2 L1396.0 993.3 L1398.1 991.6 L1400.3 987.8 L1402.7 1000.3 L1405.1 1012.7 L1407.4 1011.3 L1409.7 1009.7 L1412.0 1009.3 L1414.1 1010.1 L1416.2 1012.9 L1418.4 1014.5 L1420.5 1015.3 L1422.8 1015.6 L1425.0 1011.0 L1427.3 1009.3 L1429.6 1013.2 L1431.9 1017.1 L1434.1 1019.5 L1436.3 1019.5 L1438.4 1016.5 L1440.6 1016.5 L1442.7 1016.1 L1444.8 1016.2 L1447.0 1016.4 L1449.1 1015.2 L1451.2 1017.8 L1453.4 1020.3 L1455.5 1022.1 L1457.6 1024.8 L1459.8 1026.4 L1461.9 1025.9 L1464.0 1025.3 L1466.2 1025.3 L1468.3 1024.6 L1470.7 1025.6 L1473.1 1031.0 L1475.5 1038.2 L1477.9 1043.1 L1480.3 1045.1 L1482.4 1042.5 L1484.5 1037.2 L1486.7 1031.7 L1488.8 1029.8 L1491.1 1029.2 L1493.3 1029.9 L1495.6 1027.5 L1497.9 1029.6 L1500.2 1028.9 L1502.4 1028.1 L1505.0 1028.4 L1507.6 1031.4 L1510.1 1032.1 L1512.7 1036.6 L1515.0 1040.3 L1517.2 1047.5 L1519.5 1052.0 L1522.1 1050.8 L1524.6 1048.9 L1527.2 1046.5 L1529.8 1045.1 L1532.2 1043.9 L1534.5 1040.5 L1536.9 1041.7 L1539.3 1039.1 L1541.7 1040.0 L1544.1 1039.7 L1546.5 1040.6 L1548.9 1041.0 L1551.3 1042.3 L1553.7 1045.1 L1555.9 1047.1 L1558.2 1052.5 L1560.5 1057.1 L1562.5 1062.4 L1564.5 1067.3 L1566.5 1069.0 L1568.5 1065.9 L1570.5 1062.0 L1572.5 1060.5 L1574.6 1059.9 L1576.7 1061.8 L1578.9 1060.1 L1581.0 1062.2 L1583.3 1062.4 L1585.5 1059.2 L1587.8 1058.8 L1590.0 1060.2 L1592.1 1065.9 L1594.2 1071.2 L1596.4 1072.5 L1598.5 1070.9 L1600.6 1067.4 L1602.8 1062.5 L1604.9 1060.5 L1607.5 1061.8 L1610.0 1062.2 L1612.6 1061.5 L1615.1 1062.2 L1617.7 1064.2 L1620.3 1063.8 L1622.8 1064.7 L1625.4 1065.6 L1627.9 1066.2 L1630.5 1068.4 L1633.1 1070.8 L1635.6 1070.7 L1638.2 1068.8 L1640.8 1068.8 L1643.3 1066.7 L1645.9 1065.6 L1648.4 1066.2 L1651.0 1064.9 L1653.6 1067.9 L1656.1 1069.0 L1658.7 1070.8 L1661.2 1071.0 L1663.8 1072.9 L1666.4 1073.3 L1668.9 1070.2 L1671.5 1070.9 L1674.0 1067.7 L1676.6 1067.3 L1679.2 1068.2 L1681.7 1066.1 L1684.3 1068.9 L1686.9 1069.0 L1689.1 1071.6 L1691.4 1076.9 L1693.7 1078.4 L1695.1 1075.9 L1700.1 1077.4"/>
<path stroke="#6A3D9A" stroke-width="10.1" d="M168.1 1061.5 L170.6 1053.6 L173.1 1049.5 L175.5 1049.9 L178.0 1046.3 L180.5 1047.0 L183.1 1058.5 L185.6 1070.0 L187.7 1067.6 L189.9 1062.3 L192.0 1059.6 L194.1 1056.4 L196.4 1059.2 L198.7 1059.5 L201.0 1061.5 L203.5 1058.9 L206.1 1059.2 L208.7 1056.3 L211.2 1052.9 L213.4 1052.0 L215.5 1050.7 L217.6 1047.6 L219.8 1047.8 L222.3 1050.1 L224.9 1054.3 L227.4 1059.5 L230.0 1063.2 L232.3 1057.9 L234.6 1048.0 L236.8 1042.7 L239.0 1045.3 L241.1 1044.5 L243.2 1045.0 L245.4 1046.1 L247.9 1045.6 L250.5 1043.9 L253.1 1040.1 L255.6 1038.4 L258.2 1037.4 L260.7 1039.0 L263.3 1040.2 L265.9 1039.3 L268.1 1040.5 L270.4 1043.8 L272.7 1049.8 L275.0 1053.5 L277.2 1055.7 L279.5 1058.1 L281.7 1056.4 L283.8 1053.1 L285.9 1051.1 L288.1 1049.5 L290.4 1051.2 L292.8 1056.0 L295.2 1060.1 L297.6 1061.9 L300.0 1064.9 L302.3 1058.3 L304.6 1045.9 L306.8 1039.3 L309.4 1044.2 L312.0 1055.1 L314.5 1065.9 L317.1 1070.9 L319.6 1068.4 L322.2 1066.1 L324.8 1059.5 L327.3 1056.4 L329.6 1051.4 L331.9 1051.1 L334.2 1046.5 L336.4 1044.1 L338.7 1041.0 L341.0 1041.0 L343.4 1039.0 L345.8 1038.4 L348.2 1038.6 L350.6 1038.9 L352.9 1038.4 L355.3 1036.6 L357.7 1040.0 L360.1 1039.0 L362.5 1039.8 L364.9 1041.0 L367.2 1041.1 L369.4 1039.2 L371.7 1036.2 L374.0 1037.6 L376.3 1033.9 L378.6 1034.2 L380.7 1035.5 L382.8 1037.8 L385.0 1041.2 L387.1 1041.0 L389.7 1034.1 L392.2 1021.4 L394.8 1014.5 L397.0 1018.9 L399.2 1029.2 L401.4 1041.6 L403.7 1052.0 L405.9 1056.4 L408.2 1055.3 L410.4 1046.9 L412.7 1037.7 L415.0 1030.6 L417.3 1021.9 L419.5 1018.8 L421.7 1019.7 L423.8 1024.6 L425.9 1026.4 L428.1 1029.0 L430.6 1028.9 L433.2 1026.3 L435.8 1022.0 L438.3 1021.4 L440.7 1021.1 L443.1 1022.4 L445.5 1023.0 L447.9 1022.8 L450.3 1023.9 L452.8 1022.4 L455.4 1019.8 L457.5 1018.5 L459.6 1021.1 L461.8 1022.3 L463.9 1023.2 L466.5 1021.9 L469.0 1020.0 L471.6 1016.3 L474.1 1016.4 L476.4 1017.3 L478.7 1017.5 L481.0 1018.1 L483.1 1015.8 L485.2 1011.3 L487.4 1007.4 L489.5 1006.1 L492.1 1005.5 L494.6 1003.8 L497.2 1004.2 L499.8 1003.6 L501.9 1003.8 L504.0 1002.9 L506.2 1002.7 L508.3 1001.0 L510.9 1002.4 L513.4 1004.4 L516.0 996.7 L518.5 989.0 L521.1 994.2 L523.7 997.6 L526.2 995.8 L528.8 992.5 L530.9 991.9 L533.1 989.5 L535.2 989.4 L537.3 987.3 L539.5 987.2 L541.6 986.3 L543.7 985.5 L545.9 984.8 L548.1 986.2 L550.4 988.1 L552.7 989.0 L555.0 988.5 L557.2 987.2 L559.5 983.9 L561.8 979.1 L564.1 975.4 L566.4 971.1 L568.9 972.2 L571.5 975.8 L574.0 977.5 L576.6 978.8 L578.7 977.7 L580.9 977.8 L583.0 973.7 L585.1 972.8 L587.3 971.4 L589.4 971.8 L591.5 972.0 L593.7 972.0 L596.2 971.4 L598.8 965.1 L600.9 960.6 L603.1 955.3 L605.2 948.5 L607.3 947.2 L609.5 949.0 L611.6 952.5 L613.7 956.8 L615.9 956.6 L618.4 954.9 L621.0 953.2 L623.6 948.8 L626.1 944.6 L628.7 946.1 L631.2 947.6 L633.8 951.1 L636.4 952.3 L638.6 947.6 L640.9 937.2 L643.2 933.5 L645.7 932.3 L648.3 931.0 L650.6 931.5 L652.9 930.6 L655.1 931.0 L657.7 925.3 L660.3 920.7 L662.4 920.4 L664.5 918.2 L666.7 917.9 L668.8 915.6 L670.9 914.8 L673.1 910.3 L675.2 908.7 L677.3 905.4 L679.9 902.4 L682.5 899.9 L685.0 897.4 L687.6 895.1 L689.7 893.4 L691.8 893.0 L694.0 890.5 L696.1 888.3 L698.4 885.0 L700.7 880.7 L702.9 876.3 L705.1 871.8 L707.2 865.2 L709.4 859.7 L711.5 854.1 L712.9 850.0 L714.3 845.9 L716.6 839.5 L718.8 834.2 L721.1 827.8"/>
<path stroke="#6A3D9A" stroke-width="8.3" d="M721.1 827.8 L723.0 821.1 L724.9 813.4 L726.8 805.1 L729.0 794.9 L731.3 782.4 L733.0 769.6 L734.7 752.9 L737.0 718.9 L738.6 673.6 L739.9 628.2 L740.4 560.2 L742.0 440.2 L743.8 320.2 L744.5 240.2 L744.9 220.4"/>
<path stroke="#6A3D9A" stroke-width="9.7" d="M744.9 220.4 L747.2 205.3 L749.5 201.6 L760.6 237.7 L769.3 206.6 L774.3 244.2 L781.5 268.0 L786.9 207.8 L793.1 216.6 L796.9 199.7 L800.6 205.3 L805.6 196.6 L808.1 216.0 L813.2 205.3 L820.0 258.6 L828.8 203.5 L836.9 223.5 L843.2 224.8 L847.0 210.4 L855.7 273.6 L866.4 205.3 L873.3 224.8 L877.0 210.4 L882.0 224.1 L884.5 219.1 L892.0 222.9 L894.8 288.0 L900.8 193.4 L909.6 231.6 L919.0 199.1 L922.1 226.6 L928.4 207.2 L933.4 289.9 L942.4 209.7 L946.8 230.4 L954.3 208.5 L959.3 216.6 L963.1 206.0 L971.8 275.7 L984.4 191.6 L990.6 196.6 L994.4 207.8 L999.4 190.9 L1003.1 200.3 L1008.1 276.7 L1016.9 217.9 L1022.5 232.9 L1025.7 211.0 L1033.2 219.1 L1035.7 226.6 L1040.7 209.7 L1046.3 261.9 L1052.6 200.3 L1058.2 207.8 L1063.2 222.9 L1068.3 220.4 L1073.3 232.6 L1082.0 213.5 L1085.2 264.2 L1090.2 197.8 L1095.8 195.3 L1100.2 181.6 L1107.1 191.6 L1112.1 212.9 L1118.3 208.5 L1119.9 212.0"/>
<path stroke="#6A3D9A" stroke-width="8.3" d="M1119.9 212.0 L1121.5 215.4 L1122.5 250.0 L1122.9 300.0 L1124.1 390.0 L1125.6 480.0 L1127.9 616.0 L1129.0 684.0 L1131.3 741.0 L1133.6 766.7 L1135.9 786.0 L1137.5 800.0 L1139.7 807.4 L1141.9 812.4 L1144.1 817.1"/>
<path stroke="#6A3D9A" stroke-width="10.1" d="M1144.1 817.1 L1146.7 824.9 L1149.3 833.9 L1151.8 840.6 L1154.4 847.8 L1156.8 855.8 L1159.2 858.9 L1161.6 865.8 L1164.0 869.4 L1166.3 875.1 L1168.7 881.3 L1171.1 883.8 L1173.5 888.1 L1175.9 892.9 L1178.3 895.6 L1180.6 900.4 L1182.9 901.7 L1185.1 904.2 L1187.3 903.6 L1189.4 902.0 L1191.5 902.8 L1193.7 902.4 L1195.9 905.3 L1198.2 911.4 L1200.5 917.8 L1203.1 923.7 L1205.6 928.1 L1207.8 926.9 L1209.9 924.8 L1212.0 924.2 L1214.2 922.9 L1216.7 928.6 L1219.3 931.5 L1221.6 929.2 L1223.8 929.5 L1226.1 928.1 L1228.7 925.1 L1231.2 923.8 L1233.5 926.0 L1235.8 928.6 L1238.1 933.2 L1240.3 936.6 L1242.6 939.2 L1244.9 941.7 L1247.2 939.7 L1249.4 934.2 L1251.7 931.5 L1254.0 933.1 L1256.3 937.6 L1258.5 941.7 L1261.1 946.6 L1263.7 952.0 L1266.2 956.0 L1268.8 960.5 L1271.4 954.9 L1273.9 945.1 L1276.1 935.7 L1278.2 929.8 L1280.2 932.9 L1282.2 940.9 L1284.2 946.8 L1286.4 955.1 L1288.7 959.9 L1291.0 963.9 L1293.6 959.8 L1296.1 957.1 L1298.2 962.2 L1300.4 970.3 L1302.5 976.6 L1304.6 981.0 L1306.9 977.2 L1309.2 972.2 L1311.5 969.0 L1313.6 967.3 L1315.7 965.2 L1317.9 965.9 L1320.0 965.6 L1322.3 966.1 L1324.6 969.6 L1326.8 974.2 L1329.1 978.5 L1331.4 980.5 L1333.7 982.7 L1336.0 975.0 L1338.2 960.6 L1340.5 952.8 L1342.8 956.6 L1345.1 962.1 L1347.3 969.0 L1349.6 975.7 L1351.9 981.5 L1354.2 985.3 L1356.7 985.1 L1359.3 980.3 L1361.8 974.9 L1364.4 974.2 L1366.5 974.4 L1368.7 975.8 L1370.8 976.6 L1372.9 977.6 L1375.5 984.8 L1378.1 987.8 L1380.2 987.8 L1382.3 983.4 L1384.5 980.9 L1386.6 979.3 L1389.2 977.4 L1391.7 978.3 L1394.3 977.8 L1396.9 977.6 L1398.4 980.3 L1400.0 978.5 L1402.3 979.4 L1404.6 978.5 L1406.8 982.0 L1409.4 990.8 L1412.0 999.0 L1414.2 1000.1 L1416.5 999.4 L1418.8 1000.7 L1421.1 999.1 L1423.3 997.9 L1425.6 997.3 L1428.2 1002.5 L1430.7 1011.1 L1433.3 1016.1 L1435.3 1012.9 L1437.3 1009.8 L1439.3 1005.9 L1441.8 1004.0 L1444.4 1002.9 L1447.0 1001.5 L1449.5 1002.4 L1452.1 1004.9 L1454.6 1013.3 L1457.2 1018.3 L1459.8 1022.9 L1462.0 1017.4 L1464.3 1007.1 L1466.6 1001.6 L1468.9 1002.8 L1471.1 1007.0 L1473.4 1011.0 L1475.7 1015.7 L1478.0 1024.4 L1480.3 1026.4 L1482.5 1020.7 L1484.8 1010.2 L1487.1 1004.5 L1489.6 1010.4 L1492.2 1019.5 L1494.5 1018.1 L1496.8 1018.7 L1499.0 1016.1 L1501.6 1012.2 L1504.2 1006.2 L1506.4 1008.3 L1508.7 1013.1 L1511.0 1016.1 L1513.1 1019.5 L1515.3 1024.4 L1517.4 1028.2 L1519.5 1029.8 L1522.1 1029.3 L1524.6 1025.8 L1527.2 1026.3 L1529.8 1024.6 L1531.9 1027.2 L1534.0 1027.9 L1536.2 1030.6 L1538.3 1033.2 L1540.6 1031.7 L1542.9 1027.5 L1545.1 1026.4 L1547.7 1028.5 L1550.3 1034.9 L1552.8 1033.1 L1555.4 1029.8 L1557.7 1032.1 L1559.9 1035.7 L1562.2 1038.3 L1564.3 1039.7 L1566.5 1036.7 L1568.6 1034.7 L1570.7 1034.9 L1573.0 1040.2 L1575.3 1050.1 L1577.6 1055.4 L1579.9 1051.3 L1582.1 1045.6 L1584.4 1040.0 L1586.7 1036.7 L1589.0 1034.5 L1591.2 1034.0 L1593.8 1038.3 L1596.4 1041.7 L1598.6 1047.8 L1600.9 1053.4 L1603.2 1055.4 L1605.3 1053.9 L1607.5 1049.3 L1609.6 1045.0 L1611.7 1040.0 L1614.3 1037.2 L1616.8 1036.6 L1619.4 1034.0 L1621.4 1036.3 L1623.4 1043.3 L1625.4 1048.5 L1627.9 1051.0 L1630.5 1055.2 L1633.1 1058.4 L1635.6 1058.8 L1637.8 1058.0 L1639.9 1051.4 L1642.0 1047.3 L1644.2 1045.1 L1646.4 1045.7 L1648.7 1047.0 L1651.0 1048.5 L1653.6 1043.7 L1656.1 1037.9 L1658.7 1034.0 L1661.2 1035.0 L1663.8 1042.0 L1666.4 1046.8 L1668.5 1050.1 L1670.6 1052.9 L1672.8 1055.1 L1674.9 1057.1 L1677.3 1055.8 L1679.7 1058.8 L1682.1 1055.9 L1684.5 1058.5 L1686.9 1057.1 L1688.9 1057.9 L1691.0 1057.9 L1693.0 1058.2 L1695.1 1060.5 L1700.1 1062.0"/>
<path stroke="#E31A1C" stroke-width="10.1" d="M168.1 1052.1 L170.3 1050.0 L172.6 1049.8 L174.8 1047.4 L177.1 1047.5 L179.2 1048.9 L181.3 1052.4 L183.5 1057.9 L185.6 1059.8 L188.2 1060.2 L190.7 1058.1 L193.3 1062.1 L195.9 1066.3 L198.4 1070.4 L200.6 1067.0 L202.9 1061.3 L205.1 1054.7 L207.3 1048.1 L209.5 1045.8 L211.7 1047.9 L213.8 1052.4 L215.9 1056.2 L218.1 1058.4 L220.4 1056.4 L222.8 1052.0 L225.2 1046.3 L227.6 1042.2 L230.0 1039.8 L232.1 1042.3 L234.3 1043.1 L236.4 1045.2 L238.5 1047.8 L240.8 1050.2 L243.1 1056.6 L245.4 1058.4 L247.9 1051.2 L250.5 1047.5 L253.1 1049.7 L255.6 1058.2 L258.2 1061.0 L260.7 1059.8 L263.3 1055.0 L265.9 1051.2 L268.0 1046.7 L270.1 1044.8 L272.3 1041.9 L274.4 1041.5 L276.5 1042.8 L278.7 1045.8 L280.8 1045.6 L282.9 1046.1 L285.5 1044.8 L288.1 1043.2 L290.6 1042.9 L293.2 1042.4 L295.3 1043.1 L297.5 1044.1 L299.6 1047.1 L301.7 1047.8 L303.9 1046.3 L306.0 1047.4 L308.1 1046.3 L310.3 1044.9 L312.5 1046.5 L314.8 1046.4 L317.1 1049.1 L319.4 1050.4 L321.6 1051.5 L323.9 1052.4 L326.2 1050.6 L328.5 1047.0 L330.7 1046.6 L333.2 1046.7 L335.6 1052.2 L338.0 1055.8 L340.4 1060.6 L342.8 1064.8 L345.3 1065.2 L347.8 1062.3 L350.4 1059.8 L352.9 1056.7 L355.5 1053.5 L358.1 1051.7 L360.2 1053.9 L362.3 1056.7 L364.5 1054.6 L366.6 1047.2 L368.7 1039.2 L370.9 1037.2 L373.3 1037.6 L375.7 1042.1 L378.1 1045.7 L380.5 1047.4 L383.0 1053.3 L385.4 1053.3 L387.7 1052.4 L389.9 1049.4 L392.2 1043.2 L394.5 1038.6 L396.8 1034.2 L399.0 1033.8 L401.3 1039.4 L403.6 1043.0 L405.9 1046.5 L408.3 1046.6 L410.7 1041.4 L413.0 1038.4 L415.4 1033.6 L417.8 1033.8 L420.0 1033.8 L422.1 1035.8 L424.2 1035.0 L426.4 1037.6 L428.4 1041.7 L430.3 1045.4 L432.3 1047.3 L434.3 1042.5 L436.3 1033.5 L438.3 1028.7 L440.3 1031.6 L442.3 1038.0 L444.3 1041.3 L446.3 1038.2 L448.3 1033.1 L450.3 1031.3 L452.8 1033.4 L455.4 1036.0 L457.9 1031.7 L460.5 1029.2 L463.1 1029.3 L465.6 1031.7 L467.9 1029.0 L470.2 1024.9 L472.4 1021.5 L474.6 1022.0 L476.7 1027.5 L478.8 1031.0 L481.0 1033.4 L483.5 1030.0 L486.1 1028.3 L488.4 1031.5 L490.7 1034.8 L492.9 1037.7 L495.1 1037.9 L497.2 1033.1 L499.3 1031.3 L501.5 1029.2 L503.7 1028.4 L506.0 1027.5 L508.3 1027.5 L510.9 1021.7 L513.4 1015.5 L516.0 1017.1 L518.5 1018.9 L520.7 1015.2 L522.8 1010.4 L525.4 1015.7 L527.9 1024.6 L530.5 1030.9 L532.6 1029.6 L534.8 1026.9 L536.9 1024.1 L539.0 1019.8 L541.2 1015.2 L543.3 1011.7 L545.4 1006.5 L547.6 1006.1 L550.1 1006.3 L552.7 1005.3 L555.3 997.7 L557.8 992.5 L560.4 993.4 L562.9 997.6 L565.1 995.0 L567.2 992.5 L569.3 996.4 L571.5 998.4 L573.2 994.9 L574.9 994.2 L577.2 995.8 L579.4 1001.1 L581.7 1004.4 L584.3 997.0 L586.8 987.3 L589.0 984.1 L591.1 980.2 L593.2 978.0 L595.4 977.1 L597.5 976.4 L599.6 974.1 L601.8 974.4 L603.9 973.7 L606.2 973.7 L608.5 975.1 L610.7 977.1 L613.0 974.7 L615.3 976.1 L617.6 972.0 L619.3 968.1 L621.0 965.1 L623.1 963.6 L625.3 962.0 L627.4 961.3 L629.5 960.9 L631.7 961.6 L633.8 964.7 L635.9 963.5 L638.1 965.1 L640.6 963.3 L643.2 962.4 L645.7 960.0 L648.3 958.3 L650.4 949.6 L652.6 941.2 L655.1 940.5 L657.7 938.2 L660.3 937.8 L662.8 932.8 L665.4 929.3 L667.7 925.6 L669.9 924.0 L672.2 919.0 L674.8 910.1 L677.3 907.1 L679.5 905.4 L681.6 902.6 L683.7 903.1 L685.9 900.3 L688.0 895.5 L690.1 891.1 L692.3 885.5 L694.4 884.9 L697.0 884.4 L699.5 885.7 L701.7 884.3 L703.8 878.1 L705.8 872.6 L707.8 866.0 L709.8 859.3 L711.8 852.4 L713.8 845.7 L716.1 837.9 L718.3 833.7 L720.6 827.6"/>
<path stroke="#E31A1C" stroke-width="8.3" d="M720.6 827.6 L722.5 820.9 L724.4 813.2 L726.3 804.9 L728.5 794.7 L730.8 782.2 L732.5 769.4 L734.2 752.7 L736.5 718.7 L738.1 673.4 L739.4 628.0 L739.9 560.0 L741.5 440.0 L743.3 320.0 L744.0 240.0 L744.4 220.2"/>
<path stroke="#E31A1C" stroke-width="9.7" d="M744.4 220.2 L746.7 205.1 L749.0 201.4 L760.1 237.5 L768.8 206.4 L773.8 244.0 L781.0 267.8 L786.4 207.6 L792.6 216.4 L796.4 199.5 L800.1 205.1 L805.1 196.4 L807.6 215.8 L812.7 205.1 L819.5 258.4 L828.3 203.3 L836.4 223.3 L842.7 224.6 L846.5 210.2 L855.2 273.4 L865.9 205.1 L872.8 224.6 L876.5 210.2 L881.5 223.9 L884.0 218.9 L891.5 222.7 L894.3 287.8 L900.3 193.2 L909.1 231.4 L918.5 198.9 L921.6 226.4 L927.9 207.0 L932.9 289.7 L941.9 209.5 L946.3 230.2 L953.8 208.3 L958.8 216.4 L962.6 205.8 L971.3 275.5 L983.9 191.4 L990.1 196.4 L993.9 207.6 L998.9 190.7 L1002.6 200.1 L1007.6 276.5 L1016.4 217.7 L1022.0 232.7 L1025.2 210.8 L1032.7 218.9 L1035.2 226.4 L1040.2 209.5 L1045.8 261.7 L1052.1 200.1 L1057.7 207.6 L1062.7 222.7 L1067.8 220.2 L1072.8 232.4 L1081.5 213.3 L1084.7 264.0 L1089.7 197.6 L1095.3 195.1 L1099.7 181.4 L1106.6 191.4 L1111.6 212.7 L1117.8 208.3 L1121.0 215.2"/>
<path stroke="#E31A1C" stroke-width="8.3" d="M1121.0 215.2 L1122.0 250.0 L1122.4 300.0 L1123.6 390.0 L1125.1 480.0 L1127.4 616.0 L1128.5 684.0 L1130.8 741.0 L1133.1 766.7 L1135.4 786.0 L1137.0 800.0 L1138.4 810.9 L1139.9 820.5 L1142.0 832.8 L1144.1 842.7"/>
<path stroke="#E31A1C" stroke-width="10.1" d="M1144.1 842.7 L1146.7 851.3 L1149.3 858.1 L1151.5 862.3 L1153.8 867.3 L1156.1 871.7 L1158.2 875.4 L1160.4 879.6 L1162.5 884.5 L1164.6 888.8 L1166.8 892.3 L1168.9 898.4 L1171.0 902.1 L1173.2 905.9 L1175.5 909.0 L1177.7 911.1 L1180.0 914.4 L1182.6 919.7 L1185.1 926.4 L1187.4 928.8 L1189.7 932.2 L1192.0 934.9 L1194.1 936.7 L1196.2 939.6 L1198.4 941.5 L1200.5 943.4 L1202.6 943.9 L1204.8 946.8 L1206.9 947.1 L1209.0 950.3 L1211.2 952.5 L1213.3 956.3 L1215.4 958.0 L1217.6 962.2 L1220.1 964.0 L1222.7 964.8 L1225.3 963.6 L1227.8 962.2 L1230.4 965.4 L1232.9 970.7 L1235.2 974.0 L1237.5 977.5 L1239.8 979.3 L1241.9 977.6 L1244.0 976.5 L1246.2 974.5 L1248.3 974.2 L1250.6 976.1 L1252.9 979.1 L1255.1 984.4 L1257.7 989.9 L1260.3 992.9 L1262.5 991.5 L1264.8 988.2 L1267.1 986.1 L1269.2 984.8 L1271.4 984.8 L1273.5 982.3 L1275.6 983.6 L1278.2 984.3 L1280.7 985.1 L1283.3 986.5 L1285.9 987.8 L1288.0 990.2 L1290.1 992.2 L1292.3 995.5 L1294.4 998.1 L1297.0 1000.7 L1299.5 1002.5 L1302.1 1003.7 L1304.6 1004.0 L1306.9 1000.7 L1309.2 998.8 L1311.5 996.4 L1313.8 1000.2 L1316.0 1005.9 L1318.3 1010.0 L1320.3 1013.3 L1322.3 1014.3 L1324.3 1016.8 L1326.8 1014.3 L1329.4 1010.0 L1332.0 1010.6 L1334.5 1009.8 L1337.1 1013.4 L1339.7 1014.9 L1342.2 1015.1 L1344.5 1012.1 L1346.8 1009.1 L1349.0 1008.3 L1351.3 1007.3 L1353.6 1008.7 L1355.9 1007.5 L1358.4 1011.3 L1361.0 1016.8 L1363.3 1018.7 L1365.5 1021.1 L1367.8 1020.3 L1370.4 1022.1 L1372.9 1021.1 L1375.2 1023.7 L1377.5 1028.0 L1379.8 1030.5 L1382.1 1029.1 L1384.3 1029.0 L1386.6 1028.8 L1389.2 1027.2 L1391.7 1025.4 L1393.9 1027.0 L1396.0 1029.6 L1398.1 1033.5 L1400.3 1034.8 L1402.5 1035.3 L1404.6 1037.0 L1406.8 1037.5 L1409.1 1037.0 L1411.4 1034.8 L1413.7 1033.2 L1415.9 1036.1 L1418.2 1039.2 L1420.5 1040.9 L1422.8 1037.7 L1425.0 1033.0 L1427.3 1029.8 L1429.9 1030.6 L1432.4 1033.2 L1434.6 1030.4 L1436.7 1030.6 L1439.0 1035.3 L1441.3 1042.6 L1443.5 1046.8 L1446.1 1046.2 L1448.7 1042.2 L1451.2 1041.7 L1453.4 1039.8 L1455.5 1037.9 L1457.6 1036.4 L1459.8 1036.6 L1461.9 1034.6 L1464.0 1036.3 L1466.2 1037.4 L1468.3 1036.6 L1470.9 1035.4 L1473.4 1031.6 L1476.0 1030.6 L1478.0 1031.3 L1480.0 1033.7 L1482.0 1034.9 L1484.5 1036.0 L1487.1 1040.9 L1489.1 1039.2 L1491.1 1036.9 L1493.1 1034.9 L1495.6 1038.2 L1498.2 1044.0 L1500.7 1045.1 L1502.9 1045.5 L1505.0 1043.2 L1507.1 1041.4 L1509.3 1040.0 L1511.4 1040.2 L1513.5 1038.6 L1515.7 1038.7 L1517.8 1038.3 L1520.4 1037.9 L1522.9 1037.4 L1525.5 1034.9 L1528.1 1035.5 L1530.6 1037.6 L1533.2 1040.0 L1535.5 1043.4 L1537.7 1048.5 L1540.0 1050.3 L1542.3 1051.6 L1544.6 1054.0 L1546.8 1053.7 L1549.4 1054.4 L1552.0 1056.2 L1554.5 1052.5 L1557.1 1048.5 L1559.2 1047.8 L1561.4 1048.3 L1563.5 1048.2 L1565.6 1046.8 L1567.9 1044.3 L1570.2 1043.3 L1572.5 1043.4 L1575.0 1046.3 L1577.6 1048.5 L1580.1 1044.5 L1582.7 1041.7 L1585.3 1045.2 L1587.8 1052.0 L1590.1 1053.8 L1592.4 1053.9 L1594.6 1053.7 L1596.9 1051.9 L1599.2 1046.9 L1601.5 1045.1 L1604.0 1048.6 L1606.6 1050.3 L1609.2 1048.3 L1611.7 1046.8 L1614.3 1049.5 L1616.8 1050.3 L1619.4 1045.5 L1622.0 1041.7 L1624.3 1039.9 L1626.7 1040.0 L1629.0 1038.7 L1631.4 1039.2 L1633.4 1041.8 L1635.3 1045.5 L1637.3 1048.5 L1639.9 1050.0 L1642.5 1052.0 L1644.7 1050.7 L1647.0 1047.9 L1649.3 1046.8 L1651.6 1051.2 L1653.8 1056.4 L1656.1 1060.5 L1658.7 1058.4 L1661.2 1057.1 L1663.8 1059.9 L1666.4 1060.5 L1668.6 1058.7 L1670.9 1050.9 L1673.2 1043.4 L1675.8 1040.6 L1678.3 1039.2 L1680.9 1044.9 L1683.4 1050.3 L1685.7 1049.0 L1688.0 1042.6 L1690.3 1040.0 L1692.7 1039.3 L1695.1 1041.7 L1700.1 1043.2"/>
</g>
<g fill="#262626" font-size="47.3px" letter-spacing="1.3">
<text x="173.7" y="1311.5" text-anchor="middle">-500</text>
<text x="326.1" y="1311.5" text-anchor="middle">-400</text>
<text x="478.5" y="1311.5" text-anchor="middle">-300</text>
<text x="630.9" y="1311.5" text-anchor="middle">-200</text>
<text x="783.3" y="1311.5" text-anchor="middle">-100</text>
<text x="934.3" y="1311.5" text-anchor="middle">0</text>
<text x="1089.9" y="1311.5" text-anchor="middle">100</text>
<text x="1242.3" y="1311.5" text-anchor="middle">200</text>
<text x="1394.7" y="1311.5" text-anchor="middle">300</text>
<text x="1547.1" y="1311.5" text-anchor="middle">400</text>
<text x="1699.5" y="1311.5" text-anchor="middle">500</text>
<text x="155.0" y="63.0" text-anchor="end">-10</text>
<text x="155.0" y="234.7" text-anchor="end">-20</text>
<text x="155.0" y="406.4" text-anchor="end">-30</text>
<text x="155.0" y="578.0" text-anchor="end">-40</text>
<text x="155.0" y="749.7" text-anchor="end">-50</text>
<text x="155.0" y="921.4" text-anchor="end">-60</text>
<text x="155.0" y="1093.1" text-anchor="end">-70</text>
<text x="155.0" y="1264.8" text-anchor="end">-80</text>
</g>
<g fill="#262626" font-size="50px">
<text x="931" y="1375.3" text-anchor="middle" textLength="366" lengthAdjust="spacing">Frequency (MHz)</text>
<text transform="translate(63.7 653.3) rotate(-90)" text-anchor="middle" textLength="584.5" lengthAdjust="spacing" word-spacing="4.6">Power Spectral Density(dB)</text>
</g>
<rect x="1176" y="150" width="509.3" height="411.6" fill="#fff"/>
<path d="M1212.9 1086.0H1386.0V784.0H1213.9V1089.9" fill="none" stroke="#172B54" stroke-width="7.8" stroke-dasharray="22.9 6.15" shape-rendering="crispEdges"/>
<path d="M1299.8 783.5L1401.9 585.5" stroke="#000" stroke-width="9.2" fill="none"/>
<path d="M1416 561.3L1388 580.5L1414.8 593.8Z" fill="#000"/>
<rect x="1204.8" y="166.7" width="441.8" height="346.3" fill="#fff" stroke="#262626" stroke-width="1.2"/>
<clipPath id="ic"><rect x="1204.8" y="166.7" width="442.4" height="346.3"/></clipPath>
<g fill="none" stroke-width="2.9" stroke-linejoin="round" clip-path="url(#ic)">
<path stroke="#B15928" d="M1204.8 234.3 L1212.1 238.7 L1220.8 231.4 L1228.1 237.2 L1236.8 237.2 L1244.9 241.6 L1252.7 243.0 L1261.4 251.8 L1269.6 251.8 L1277.4 240.1 L1285.2 237.2 L1293.4 253.2 L1302.1 255.5 L1309.3 250.3 L1318.0 245.9 L1325.3 243.9 L1333.4 242.2 L1341.3 248.9 L1350.0 244.5 L1358.1 244.5 L1365.9 246.8 L1374.6 250.9 L1381.9 253.8 L1390.6 261.9 L1397.9 259.6 L1405.7 269.2 L1413.8 260.5 L1421.1 256.7 L1430.4 259.6 L1438.5 272.1 L1447.2 270.6 L1455.9 268.3 L1463.2 252.6 L1470.4 258.4 L1479.1 272.1 L1487.8 272.9 L1495.1 275.8 L1503.2 280.8 L1511.1 273.5 L1519.8 273.5 L1527.6 271.2 L1535.7 270.6 L1543.9 259.6 L1551.7 270.6 L1560.4 282.2 L1567.7 282.2 L1576.4 272.1 L1583.6 268.3 L1592.3 272.9 L1599.6 277.9 L1608.3 277.9 L1617.0 285.1 L1624.3 292.4 L1631.5 292.4 L1640.2 285.1 L1646.6 289.5"/>
<path stroke="#33A02C" d="M1204.8 235.8 L1213.5 245.1 L1221.7 240.1 L1228.9 225.0 L1236.8 231.4 L1244.9 243.0 L1252.7 233.5 L1261.4 231.4 L1269.6 244.5 L1277.4 242.2 L1285.2 234.3 L1293.4 243.0 L1302.1 252.6 L1309.3 248.9 L1316.6 244.5 L1325.3 242.2 L1333.4 238.7 L1341.3 245.1 L1350.0 241.6 L1358.1 238.1 L1365.9 237.2 L1374.6 245.9 L1381.9 245.9 L1390.0 249.4 L1397.9 246.8 L1405.7 267.7 L1413.8 254.7 L1422.5 239.6 L1430.4 250.3 L1438.5 268.3 L1447.2 260.5 L1455.9 262.5 L1463.2 265.7 L1470.4 266.8 L1479.1 264.2 L1495.1 264.2 L1503.8 272.1 L1512.5 277.0 L1519.8 281.4 L1527.6 281.7 L1535.7 273.5 L1543.9 260.5 L1551.7 263.4 L1560.4 272.1 L1567.7 278.7 L1576.4 262.5 L1583.6 262.5 L1592.3 268.3 L1599.6 268.3 L1608.3 275.8 L1617.0 298.2 L1624.3 292.4 L1631.5 288.0 L1638.8 287.5 L1646.6 288.0"/>
<path stroke="#CAB2D6" d="M1204.8 237.2 L1213.0 248.9 L1219.9 258.4 L1228.1 254.7 L1236.8 254.7 L1244.9 253.2 L1252.7 242.2 L1260.6 250.3 L1269.6 258.4 L1277.4 256.1 L1285.2 248.9 L1293.4 257.6 L1301.2 268.3 L1309.3 259.6 L1318.0 260.5 L1325.3 263.4 L1333.4 261.9 L1341.3 261.3 L1350.0 269.2 L1358.1 276.4 L1365.9 277.9 L1373.8 284.3 L1381.9 282.8 L1390.0 272.1 L1397.9 270.0 L1406.6 277.9 L1414.7 280.2 L1422.5 272.9 L1430.4 276.4 L1438.5 285.1 L1447.2 296.2 L1454.5 295.3 L1462.6 284.6 L1470.4 290.9 L1479.1 302.0 L1486.4 304.9 L1495.1 308.4 L1503.2 307.8 L1511.9 295.3 L1519.8 288.0 L1527.6 290.4 L1536.3 294.4 L1544.4 295.3 L1551.7 294.4 L1560.4 300.2 L1567.7 304.9 L1576.4 301.1 L1584.5 298.2 L1592.3 304.9 L1601.0 311.8 L1608.9 315.0 L1616.4 310.7 L1624.3 309.8 L1631.5 310.4 L1640.2 304.9 L1646.6 307.5"/>
<path stroke="#6A3D9A" d="M1204.8 241.6 L1213.0 251.2 L1219.9 253.2 L1228.1 246.8 L1236.8 254.7 L1244.9 263.4 L1252.7 252.6 L1260.6 255.5 L1268.7 254.7 L1277.4 250.3 L1285.2 248.9 L1293.4 257.0 L1301.2 258.4 L1309.3 255.5 L1318.0 261.9 L1325.3 265.7 L1333.4 256.1 L1341.3 254.9 L1350.0 262.5 L1358.1 263.9 L1365.9 266.3 L1373.8 275.0 L1381.9 275.0 L1390.0 281.4 L1397.9 264.8 L1406.6 263.4 L1414.7 253.8 L1422.5 264.8 L1430.4 272.1 L1438.5 279.9 L1447.2 287.2 L1454.5 288.6 L1462.6 278.5 L1470.4 282.2 L1479.1 297.6 L1486.4 299.1 L1495.1 288.6 L1503.2 288.6 L1511.9 290.4 L1519.8 287.5 L1527.0 285.7 L1536.3 293.0 L1544.4 295.3 L1559.0 299.1 L1567.7 301.4 L1576.4 286.6 L1584.5 274.1 L1592.3 279.3 L1601.0 287.5 L1608.9 296.7 L1616.4 303.4 L1624.3 300.5 L1631.5 301.1 L1639.7 293.8 L1646.6 293.3"/>
<path stroke="#E31A1C" d="M1204.8 266.3 L1213.5 265.4 L1222.2 269.2 L1233.9 273.5 L1245.5 279.3 L1254.2 286.0 L1261.4 286.0 L1270.1 283.1 L1278.9 283.1 L1286.1 286.0 L1294.8 293.3 L1303.5 296.7 L1310.8 298.2 L1318.0 297.3 L1326.7 293.3 L1335.5 293.3 L1344.2 296.7 L1351.4 301.1 L1358.7 307.8 L1365.9 310.7 L1373.2 306.9 L1381.9 304.0 L1390.6 305.5 L1399.3 305.5 L1406.6 301.1 L1416.7 303.1 L1431.2 304.0 L1445.8 307.5 L1454.5 312.7 L1461.7 315.6 L1470.4 316.5 L1477.7 319.4 L1486.4 320.0 L1495.1 314.7 L1503.2 312.7 L1511.1 317.1 L1518.3 321.4 L1527.0 325.8 L1535.2 332.2 L1543.0 330.1 L1551.7 324.3 L1560.4 325.8 L1567.7 329.3 L1576.4 328.7 L1584.5 331.6 L1592.3 328.7 L1599.6 323.4 L1617.0 323.4 L1624.3 322.9 L1631.5 328.1 L1638.8 330.4 L1646.6 332.2"/>
</g>
<path d="M1221.7 513.0v-5.5 M1221.7 166.7v5.5 M1263.1 513.0v-5.5 M1263.1 166.7v5.5 M1304.5 513.0v-5.5 M1304.5 166.7v5.5 M1346.0 513.0v-5.5 M1346.0 166.7v5.5 M1387.4 513.0v-5.5 M1387.4 166.7v5.5 M1428.8 513.0v-5.5 M1428.8 166.7v5.5 M1470.2 513.0v-5.5 M1470.2 166.7v5.5 M1511.6 513.0v-5.5 M1511.6 166.7v5.5 M1553.1 513.0v-5.5 M1553.1 166.7v5.5 M1594.5 513.0v-5.5 M1594.5 166.7v5.5 M1635.9 513.0v-5.5 M1635.9 166.7v5.5 M1204.8 231.4h5.5 M1646.6 231.4h-5.5 M1204.8 307.4h5.5 M1646.6 307.4h-5.5 M1204.8 383.3h5.5 M1646.6 383.3h-5.5 M1204.8 459.3h5.5 M1646.6 459.3h-5.5 " stroke="#262626" stroke-width="1.2" fill="none"/>
<g class="ins" fill="#2b2b2b" font-size="13.7px">
<text transform="translate(1222.9 533) scale(0.86 1)" text-anchor="middle">180</text>
<text transform="translate(1264.3 533) scale(0.86 1)" text-anchor="middle">190</text>
<text transform="translate(1305.7 533) scale(0.86 1)" text-anchor="middle">200</text>
<text transform="translate(1347.2 533) scale(0.86 1)" text-anchor="middle">210</text>
<text transform="translate(1388.6 533) scale(0.86 1)" text-anchor="middle">220</text>
<text transform="translate(1430.0 533) scale(0.86 1)" text-anchor="middle">230</text>
<text transform="translate(1471.4 533) scale(0.86 1)" text-anchor="middle">240</text>
<text transform="translate(1512.8 533) scale(0.86 1)" text-anchor="middle">250</text>
<text transform="translate(1554.3 533) scale(0.86 1)" text-anchor="middle">260</text>
<text transform="translate(1595.7 533) scale(0.86 1)" text-anchor="middle">270</text>
<text transform="translate(1637.1 533) scale(0.86 1)" text-anchor="middle">280</text>
<text transform="translate(1199.6 236.0) scale(0.86 1)" text-anchor="end">-60</text>
<text transform="translate(1199.6 312.0) scale(0.86 1)" text-anchor="end">-65</text>
<text transform="translate(1199.6 387.9) scale(0.86 1)" text-anchor="end">-70</text>
<text transform="translate(1199.6 463.9) scale(0.86 1)" text-anchor="end">-75</text>
</g>
<rect x="171.1" y="41.1" width="420.9" height="307.9" fill="#fff" stroke="#262626" stroke-width="4"/>
<path d="M184 72.0H326.1" stroke="#FDBF6F" stroke-width="8" fill="none"/>
<text x="335.4" y="87.3" font-size="42.5px" fill="#000" textLength="160.9" lengthAdjust="spacing">w/o DPD</text>
<path d="M184 121.0H326.1" stroke="#B15928" stroke-width="8" fill="none"/>
<text x="335.4" y="136.3" font-size="42.5px" fill="#000" textLength="203.1" lengthAdjust="spacing">RVTDCNN</text>
<path d="M184 171.0H326.1" stroke="#33A02C" stroke-width="8" fill="none"/>
<text x="337.0" y="186.3" font-size="42.5px" fill="#000" textLength="172.0" lengthAdjust="spacing">VDLSTM</text>
<path d="M184 220.0H326.1" stroke="#CAB2D6" stroke-width="8" fill="none"/>
<text x="335.4" y="235.3" font-size="42.5px" fill="#000" textLength="235.0" lengthAdjust="spacing">Feature+GRU</text>
<path d="M184 269.0H326.1" stroke="#6A3D9A" stroke-width="8" fill="none"/>
<text x="335.4" y="284.3" font-size="42.5px" fill="#000" textLength="117.1" lengthAdjust="spacing">DGRU</text>
<path d="M184 318.7H326.1" stroke="#E31A1C" stroke-width="8" fill="none"/>
<text x="337.0" y="334.0" font-size="42.5px" fill="#000" textLength="188.0" lengthAdjust="spacing">WD-IRNN</text>
</svg></body></html>
